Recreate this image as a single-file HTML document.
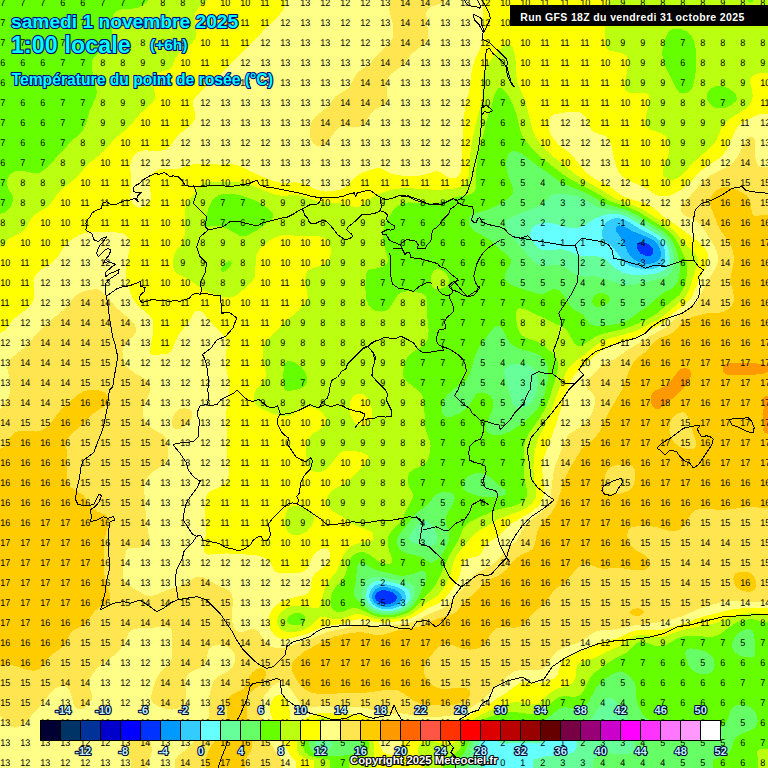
<!DOCTYPE html>
<html><head><meta charset="utf-8"><style>
html,body{margin:0;padding:0;background:#fff;overflow:hidden}
svg{display:block}
.h{font-family:"Liberation Sans",Arial,sans-serif;font-weight:bold;fill:#00ffff;stroke:#000080;stroke-width:2.2px;paint-order:stroke;stroke-linejoin:round}
</style></head><body>
<svg width="768" height="768" viewBox="0 0 768 768">
<rect width="768" height="768" fill="#0033ff"/>
<path fill="#0099ff" fill-rule="evenodd" shape-rendering="crispEdges" d="M770 770.0L-2 770.0L-2 -2.0L770 -2.0L770 770.0ZM650.8 255.5L652.5 254.1L653.4 251.5L652.7 248.5L650.3 245.5L647.3 243.5L643.5 242.2L639.5 242.2L637.5 243.5L636.7 245.5L637.1 248.5L638.5 251.3L640.5 253.5L645.5 255.9L648.5 256.1L650.8 255.5ZM391.5 603.5L395.3 601.5L397.1 598.5L396.3 595.5L393.5 592.9L388.5 590.8L383.5 590.1L379.5 590.8L376.2 593.5L375.3 595.5L375.4 598.5L376.4 600.5L378.5 602.4L381.5 603.8L384.5 604.3L391.5 603.5Z"/>
<path fill="#33ccff" fill-rule="evenodd" shape-rendering="crispEdges" d="M770 770.0L-2 770.0L-2 -2.0L770 -2.0L770 770.0ZM651.2 263.5L654.5 262.7L657.5 261.1L659.5 258.8L660.5 256.5L660.8 253.5L660.3 249.5L658.5 245.6L656.5 243.0L653.6 240.5L649.5 238.0L632.5 231.1L623.5 226.2L619.5 225.4L616.9 226.5L615.8 228.5L616.3 231.5L622.5 239.9L627.5 251.5L630.7 256.5L634.5 259.8L639.5 262.2L645.5 263.6L651.2 263.5ZM390.9 606.5L396.9 604.5L399.7 602.5L401.2 600.5L401.8 598.5L401.8 596.5L401 594.5L399.5 592.5L394.5 589.4L386.5 587.2L380.5 587.2L377.5 588.1L375.4 589.5L373.1 592.5L372.2 595.5L372.6 599.5L374.5 602.5L377.5 604.8L381.5 606.3L386.5 606.9L390.9 606.5Z"/>
<path fill="#66ffff" fill-rule="evenodd" shape-rendering="crispEdges" d="M770 770.0L-2 770.0L-2 -2.0L770 -2.0L770 770.0ZM653.8 268.5L658.5 267.0L661.5 265.1L663.7 262.5L665.2 258.5L665.4 253.5L664.4 248.5L662.5 244.2L659.5 240.4L653.5 235.9L639.5 228.7L628 221.5L623.5 219.4L618.5 218.2L613.5 218.5L609.5 219.9L606 222.5L603.5 226.5L602.2 230.5L601.9 234.5L602.7 237.5L605 240.5L614 248.5L623.6 261.5L629.1 265.5L636.5 268.1L645.5 269.1L653.8 268.5ZM392.9 608.5L396.5 607.5L400.5 605.6L404.6 601.5L405.6 599.5L406 596.5L405.2 593.5L403.5 591.0L400.5 588.7L396.5 586.8L385.5 584.1L378.5 584.3L375.5 585.5L372.7 587.5L370.1 591.5L369.2 595.5L369.8 599.5L372.5 603.9L376.5 606.9L381 608.5L386.5 609.1L392.9 608.5Z"/>
<path fill="#66ff99" fill-rule="evenodd" shape-rendering="crispEdges" d="M770 770.0L532.7 770.0L532.7 760.5L534.1 759.5L545.5 756.3L567.5 754.1L572.5 752.5L575.1 750.5L576.4 748.5L577.1 745.5L576.6 742.5L574.9 739.5L572.8 737.5L569.5 735.6L566 734.5L562.5 734.2L556.5 735.3L542.5 742.1L536.5 743.5L520.5 742.5L505.5 743.7L500.5 742.6L490.5 738.4L486.5 738.3L483.5 739.1L481.4 740.5L479 743.5L477.5 747.1L476.9 750.5L477.1 753.5L478.2 756.5L482.5 760.5L482.5 770.0L-2 770.0L-2 -2.0L770 -2.0L770 770.0ZM647.6 274.5L655.5 273.4L660.5 272.0L664.5 269.8L666.7 267.5L668.8 263.5L669.6 258.5L669.2 252.5L667.5 246.5L664.1 240.5L658.8 235.5L641.5 225.6L630.5 218.6L625.5 216.2L620.5 214.6L615.5 214.0L609.5 214.1L604.5 214.9L595.3 218.5L582.5 226.5L575.5 228.3L568.5 227.6L551.5 223.0L542.5 222.8L538.5 223.8L535 225.5L532.5 227.6L530.7 230.5L530.2 235.5L532 240.5L536.5 246.2L541.5 249.6L547.5 250.5L558.5 249.3L562.5 249.4L568.5 250.8L577.5 255.3L581.3 256.5L594.5 256.2L599.5 256.7L605.5 259.4L615.5 268.5L622.5 272.6L627.5 274.1L632.5 274.8L647.6 274.5ZM393.9 610.5L398.5 609.2L402.5 607.3L406 604.5L408.3 601.5L409.6 598.5L409.9 594.5L409.2 591.5L407.5 588.9L404.3 586.5L399.6 584.5L391.5 582.1L384.5 580.8L380.5 580.6L376.5 581.1L373.5 582.2L370.5 584.2L367.5 588.5L366 594.5L366.7 599.5L369.7 604.5L374.5 608.3L379.5 610.3L386.5 611.2L393.9 610.5Z"/>
<path fill="#66ff66" fill-rule="evenodd" shape-rendering="crispEdges" d="M770 770.0L592.8 770.0L592.8 760.5L597.5 756.5L601.5 754.1L607.5 753.0L620.5 754.6L626.5 754.3L632.5 752.3L634.4 750.5L635.2 748.5L635.4 744.5L633.9 737.5L629.3 724.5L625.3 715.5L620.5 707.2L616.5 701.8L612.5 698.5L609.5 697.7L606.5 698.4L603.5 700.5L600.5 704.4L595.5 713.1L592.5 717.2L588.5 720.4L584.5 722.0L579.5 722.5L567.5 721.4L562.5 721.6L557.5 723.1L543.5 729.4L536.5 731.1L504.5 730.9L491.5 729.9L486.5 730.5L482.5 731.7L477.5 735.5L473.3 742.5L471.4 748.5L468.8 760.5L468.8 770.0L-2 770.0L-2 -2.0L770 -2.0L770 770.0ZM634.7 284.5L662.5 278.0L668.3 275.5L671.3 272.5L672.8 269.5L673.9 264.5L673.9 258.5L672.8 251.5L670.9 245.5L668.2 240.5L664.8 236.5L658.5 231.6L629.6 214.5L620.5 211.3L599.5 207.7L595.5 205.9L584.5 199.0L576.5 196.0L566.5 194.3L555.5 194.1L550.5 195.5L544.4 202.5L540.2 205.5L513 216.5L508 219.5L505.7 222.5L505.4 224.5L506.2 227.5L512.3 237.5L532.5 260.5L537.5 264.4L543.5 265.8L555.5 265.0L559.5 265.3L564.5 267.2L575.5 274.0L580.5 276.0L584.5 276.6L594.5 276.4L599.5 276.9L616.5 283.2L622.5 284.8L628.5 285.2L634.7 284.5ZM519.8 408.5L523.5 407.7L527.5 405.6L531.5 402.1L534 398.5L536.1 393.5L537.2 388.5L537.7 383.5L537.4 377.5L536.6 373.5L535.3 370.5L533.5 368.2L530.5 366.0L523.5 363.9L513.5 363.9L508.5 365.3L505.8 367.5L504.4 370.5L504.4 374.5L512.7 403.5L515.5 407.2L517.5 408.2L519.8 408.5ZM432.5 545.5L435.5 543.6L437.2 540.5L437.2 536.5L435.4 531.5L432.5 526.2L429.4 522.5L425.5 520.9L421.5 521.5L417.5 524.5L412.2 531.5L409.7 536.5L409.3 538.5L409.8 540.5L411.9 542.5L416.5 544.1L427.5 545.9L432.5 545.5ZM394.5 612.5L399.5 611.2L404.5 609.0L408.5 605.9L411.4 602.5L413.7 597.5L414.6 592.5L414.3 588.5L412.7 585.5L410.5 583.8L407.1 582.5L383.5 576.9L374.5 576.5L371.5 577.1L368.5 578.6L366.5 580.5L364.5 583.5L362.2 590.5L362.5 597.5L365.3 603.5L370.4 608.5L377.5 611.9L385.5 613.2L394.5 612.5ZM328.8 749.5L331.2 747.5L331.9 745.5L331.5 742.5L329.6 739.5L326.5 736.8L323.5 735.7L320.5 735.9L318.5 737.0L316.4 739.5L315.4 742.5L315.6 745.5L316.6 747.5L318.5 749.1L321.5 750.3L325.5 750.4L328.8 749.5Z"/>
<path fill="#66ff00" fill-rule="evenodd" shape-rendering="crispEdges" d="M770 770.0L712.6 770.0L712.6 760.5L714.5 759.3L725.5 755.9L728.5 753.9L730.6 750.5L734.1 740.5L736.5 737.1L740.5 734.3L752.1 729.5L754.5 727.8L756.3 725.5L757.6 721.5L757.2 716.5L755.1 711.5L751.5 707.8L747.5 705.8L742.5 704.7L738.5 704.8L734.5 706.1L732.5 707.7L730.6 710.5L727.4 720.5L725.5 724.0L722.6 726.5L718.5 728.0L709.5 728.7L673.5 728.3L663.5 727.1L657.5 724.8L651.5 721.6L646.5 717.9L642.5 713.5L639 707.5L636.8 701.5L636.1 696.5L635.7 686.5L634.6 682.5L631.7 678.5L627.5 674.5L623.5 672.0L620.5 671.4L617.5 671.9L612.5 674.2L605.5 678.4L600.5 682.3L596.3 687.5L588.3 702.5L584.7 706.5L581.5 708.5L576.5 709.3L565.5 707.3L561.5 707.6L558 709.5L546.8 718.5L542.5 720.7L537.5 722.0L530.5 722.4L512.5 721.0L502.5 721.2L488.5 723.5L483.5 725.1L479.5 727.1L475.2 730.5L471.5 735.5L465.5 750.5L463.4 754.5L460.5 757.4L455.9 760.5L455.9 770.0L-2 770.0L-2 -2.0L770 -2.0L770 770.0ZM606 325.5L619 323.5L624.5 321.7L629 319.5L640.5 311.0L650.3 304.5L660.6 294.5L671.5 288.9L675.5 285.2L677.7 281.5L679.3 276.5L679.9 266.5L678.9 259.5L677.2 252.5L672.8 241.5L669.3 236.5L663.8 231.5L635.5 214.0L625.5 209.6L605.5 203.9L585.5 192.7L564.5 184.3L559.5 181.4L547.5 172.3L535.9 164.5L521.5 153.4L515.5 151.2L512.5 151.2L510.5 152.0L508.5 154.0L507.3 156.5L506.4 160.5L506.1 165.5L507.3 173.5L512.8 187.5L512.9 191.5L511.8 194.5L507.1 199.5L497 205.5L487.5 209.6L474.9 213.5L471.1 215.5L469.3 217.5L468.5 220.5L468.9 223.5L470.2 226.5L472.5 229.4L475.1 231.5L486.2 237.5L490.6 240.5L499.5 248.9L507.5 255.5L510.3 258.5L511.2 260.5L511.1 263.5L505.9 271.5L504.6 275.5L505.3 279.5L508.8 283.5L516.5 287.2L539.5 294.2L543.5 293.7L552.5 289.4L555.5 289.3L558.5 290.1L562.5 293.5L570.5 306.2L574.5 309.5L582.8 314.5L589.2 323.5L591.5 324.8L594.5 325.5L606 325.5ZM600.5 306.6L597.5 306.8L594.5 306.1L592.8 304.5L592.1 301.5L592.8 298.5L594.8 295.5L597.9 293.5L601.5 292.9L604.5 293.6L607.5 295.2L609.5 297.5L610 299.5L609.2 301.5L607.2 303.5L603.7 305.5L600.5 306.6ZM502.5 434.5L510.5 431.3L520.5 424.8L530.5 416.5L537.7 408.5L541.5 402.1L544.6 393.5L547.8 379.5L548.5 370.5L546.9 363.5L545.2 360.5L542.5 357.5L539.5 355.1L535.5 353.1L519.5 348.8L513.5 345.7L510.5 343.0L507.8 339.5L501.5 327.6L499.5 325.9L497.5 325.5L495.5 326.2L492.5 328.9L478.5 348.3L475.3 355.5L469.9 373.5L467.5 378.5L464.5 381.8L453.5 389.0L447.5 394.5L443.2 401.5L442.1 405.5L441.8 409.5L442.6 413.5L444.5 416.3L447.5 417.5L451.5 416.9L460.5 412.6L466.4 408.5L469.9 404.5L475.2 395.5L477.4 393.5L481.5 392.4L486.3 393.5L489.5 395.4L491.5 397.5L493 400.5L493.5 403.5L492.5 409.5L486.5 424.5L486 427.5L486.5 430.5L488.5 432.8L492.4 434.5L497.5 435.1L502.5 434.5ZM497.8 496.5L502.8 495.5L505.1 494.5L506.1 493.5L506.4 491.5L504.8 489.5L499.5 485.5L492.1 478.5L485.7 474.5L479.5 473.0L473.5 473.7L467.9 476.5L465.8 478.5L463.9 481.5L463 485.5L463.4 488.5L465 490.5L468.3 492.5L475.5 495.1L482.5 496.6L489.5 497.0L497.8 496.5ZM432.3 562.5L436.5 560.5L440.5 556.6L445.6 548.5L449 540.5L449.5 537.5L449.3 533.5L445.9 522.5L445.5 518.5L447.2 513.5L453.2 503.5L454.3 500.5L454.7 497.5L453.7 494.5L449.9 492.5L445.5 492.0L441.5 492.3L437.9 493.5L434.9 495.5L427.5 504.7L418.5 511.5L414.5 515.2L399.3 534.5L396.8 539.5L396.7 542.5L397.9 546.5L400 549.5L402.5 551.4L407.5 553.5L419.5 556.2L423.7 558.5L428.5 562.1L430.5 562.7L432.3 562.5ZM395.1 614.5L401.5 612.9L406.5 610.7L410.9 607.5L414.5 603.5L417.6 598.5L425.4 582.5L426.6 576.5L425.5 572.4L423.5 571.2L421.5 571.2L408.5 575.1L404.5 575.6L399.5 575.5L378 570.5L372.5 568.4L363.5 562.8L361.5 562.4L359.5 563.0L358.1 564.5L356.9 567.5L356.1 580.5L353.7 591.5L353.9 594.5L355.4 597.5L364.6 607.5L372.5 612.5L377.5 614.2L382.5 615.1L388.5 615.2L395.1 614.5ZM751.5 657.5L753.5 656.7L754.5 655.5L755.3 652.5L754.3 635.5L753.4 632.5L751.5 630.2L748.5 629.1L745.5 629.3L739.5 632.1L735 636.5L732.5 641.5L731.9 644.5L732.1 647.5L734 651.5L738.5 655.1L745.5 657.4L751.5 657.5ZM709.5 673.5L711.5 672.4L713.2 670.5L714.7 665.5L714.2 660.5L712.7 657.5L711 655.5L705.5 651.7L698.5 649.2L690.5 648.4L688.5 648.8L686.5 650.0L685.3 652.5L685.7 656.5L688.4 664.5L691.6 669.5L695.5 672.4L699.5 673.8L704.5 674.3L709.5 673.5ZM343.7 755.5L356.4 753.5L359.5 752.1L361.5 750.4L363.2 746.5L363.3 742.5L362.1 738.5L359.5 735.3L356.5 734.0L353.5 733.8L344.5 736.1L340.5 736.2L337.5 735.1L328.5 730.0L322.5 728.7L319.5 729.1L316.5 730.6L313.5 733.2L311.5 736.0L309.5 740.5L309 745.5L310.2 749.5L313.3 752.5L318 754.5L324.5 755.6L334.5 756.1L343.7 755.5Z"/>
<path fill="#bbff11" fill-rule="evenodd" shape-rendering="crispEdges" d="M442.5 770.0L349.1 770.0L349.1 760.5L351.2 759.5L362.8 756.5L365.5 754.9L367.5 752.4L368.7 748.5L368.7 742.5L367.5 737.0L365.5 732.6L361.6 728.5L357.5 726.9L353.5 726.7L344.5 728.0L340.5 728.0L328.5 724.0L322.5 723.2L318.5 723.9L315.5 725.3L311.5 728.3L308.6 731.5L306 735.5L304.3 739.5L303.4 743.5L303.4 747.5L304.3 750.5L305.5 752.5L309.4 755.5L314.5 757.2L327.7 759.5L330.3 760.5L330.3 770.0L-2 770.0L-2 214.2L4.5 212.6L8.4 209.5L11.3 205.5L12.9 201.5L12.7 196.5L8.4 188.5L7 184.5L6.8 181.5L7.6 178.5L9.4 175.5L11.5 173.4L16.5 170.9L22.5 170.7L35.5 173.4L39.5 172.7L42.5 171.2L48.5 166.0L71.5 141.2L82.3 131.5L85.5 125.5L89.7 110.5L95.4 98.5L96.7 93.5L96.2 85.5L91.9 69.5L91.6 65.5L92 61.5L93.7 57.5L96.5 54.6L99.5 52.8L108 49.5L110.7 46.5L111.9 40.5L112 20.5L113.5 14.3L115.5 11.7L118.5 10.0L122.5 9.2L131.5 8.8L136.5 8.0L141.5 6.0L151.2 -2.0L746.9 -2.0L748.5 1.9L750.5 2.5L752.5 2.1L754.8 -2.0L770 -2.0L770 622.0L760.5 622.0L757.5 620.4L753.5 619.4L749.5 619.3L744.5 620.0L739.5 621.5L733.5 624.4L720.5 633.8L715.5 636.3L709.5 637.2L693.5 635.6L683.5 636.3L677.5 638.2L666.5 644.6L661.5 646.3L655.5 645.9L643.5 641.5L638.5 642.1L634.9 644.5L627.5 652.4L613 659.5L593.5 673.5L589.6 678.5L583.3 691.5L580.8 694.5L578.5 696.0L574.5 696.7L563.5 696.2L558.5 697.4L554 700.5L544.5 710.1L541.5 712.1L537.5 713.6L530.5 714.1L514.5 712.1L505.5 712.4L499.5 713.7L491.5 716.3L482.5 719.8L477.3 722.5L472.5 726.2L469 730.5L466.2 735.5L461.5 746.4L458.5 750.7L454.5 753.7L446.3 757.5L443.2 759.5L442.6 760.5L442.5 770.0ZM684.3 93.5L687.5 92.4L690.5 90.0L692.2 87.5L693.7 83.5L695.4 74.5L696.4 64.5L696.4 56.5L695.7 48.5L694.5 43.0L692.8 38.5L691 35.5L688.5 32.8L685.5 30.8L681.5 29.3L677.5 28.7L673.5 28.9L670.5 30.1L668.9 31.5L665.5 37.7L662.6 48.5L662.3 53.5L662.7 58.5L665.4 66.5L676.5 89.1L679.5 92.5L681.5 93.4L684.3 93.5ZM725.7 107.5L731.5 105.0L735.7 101.5L736.7 99.5L736.9 97.5L735.1 93.5L729.5 88.9L722.5 85.9L719.5 85.5L716.5 85.9L711.2 88.5L708.3 91.5L706.6 95.5L707 99.5L708.7 102.5L712.5 106.1L716.5 108.0L720.5 108.4L725.7 107.5ZM396.2 616.5L405.5 613.9L412.5 609.9L433.5 588.0L438.4 579.5L449.4 555.5L458.1 540.5L463.5 528.2L466.5 524.2L470.5 521.5L492.5 511.3L499.5 509.1L512.5 506.3L518.5 504.2L524.2 500.5L526.7 496.5L527.3 493.5L527.2 490.5L524.3 479.5L523.8 474.5L524.5 460.5L524.1 446.5L524.8 441.5L528 434.5L541.5 415.4L546.5 405.9L549.9 396.5L556.1 376.5L557.9 368.5L558.1 363.5L557.2 359.5L555.4 356.5L551.7 352.5L544.5 346.2L537.5 341.7L525.2 337.5L522.5 335.8L520.5 333.7L517.9 328.5L516.5 321.5L516 313.5L516.5 311.0L517.4 309.5L518.5 308.7L520.5 308.3L525.5 309.4L561.7 326.5L564.7 328.5L567.6 331.5L574.5 343.7L577.5 345.6L580.5 345.6L584.5 343.9L593.5 337.9L598.5 335.4L604.5 333.4L621.7 329.5L629.5 327.2L646.6 319.5L654.1 315.5L679.5 294.7L683.5 288.3L686.4 278.5L687.5 268.5L687.3 264.5L686.2 260.5L677.2 241.5L671.3 233.5L664.5 228.0L637.9 211.5L629.5 207.8L610.5 201.3L593.5 191.2L570.7 179.5L563.2 174.5L542.3 158.5L530.4 146.5L523.3 137.5L520.6 131.5L516.5 114.4L512.5 103.5L509.5 97.7L505.5 91.8L502.5 88.6L500.5 87.5L498.5 87.8L497.5 88.6L495 93.5L486.9 119.5L482.9 136.5L478.5 151.7L476.6 163.5L476.2 186.5L474.5 191.5L472.5 193.2L469.5 194.4L454.6 197.5L438.5 202.8L430.5 203.4L408.5 202.4L402.2 203.5L397.5 206.0L393.1 210.5L387.5 219.2L385.1 223.5L383.6 228.5L383.1 233.5L383.3 239.5L384.6 246.5L387.7 257.5L387.9 260.5L387.3 262.5L385.5 264.9L382.5 266.9L378.5 268.1L370.5 269.4L368.5 270.3L366.6 272.5L366 274.5L365.4 288.5L366.5 299.5L367.9 303.5L369.7 306.5L372.5 309.2L375.5 310.8L381.5 311.6L384.5 311.0L387.5 309.5L390.5 306.5L397.5 295.2L400.5 292.7L403.5 291.6L410.5 291.3L420.5 292.9L424.3 294.5L426.3 297.5L427 301.5L427.4 317.5L428.7 330.5L427.8 338.5L425.9 342.5L423.3 345.5L411.5 353.0L408 356.5L405.7 360.5L404.2 364.5L402.9 372.5L403.5 376.5L405.8 380.5L419.3 391.5L421.7 394.5L423.1 397.5L424.3 404.5L424.8 425.5L426.2 431.5L430 441.5L430.6 445.5L430.4 449.5L428.7 457.5L426.3 462.5L422.5 465.5L412.5 469.6L409.5 472.5L408.2 475.5L407.6 479.5L407.9 483.5L408.9 486.5L412.7 493.5L413 497.5L408 506.5L402.3 519.5L399.5 523.1L391.1 531.5L388.4 536.5L387.5 540.5L387.7 544.5L389.1 550.5L392.5 559.5L392.3 562.5L391.2 563.5L388.5 564.2L385.5 564.1L381.5 563.1L377.5 560.8L369.5 554.6L364.5 552.5L359.5 552.2L354.5 554.2L351.5 557.0L349.4 560.5L345.7 573.5L344.1 577.5L341.9 580.5L335.5 587.2L332.7 591.5L331 596.5L330.4 602.5L330.9 605.5L332.5 608.7L334.5 610.7L337.5 612.0L342.5 611.8L351.5 608.3L355.5 607.8L359.5 608.9L370.7 614.5L377.5 616.6L386.5 617.4L396.2 616.5ZM246.7 235.5L251.5 233.5L256.5 230.5L270.1 220.5L272.6 217.5L273.1 215.5L272.6 213.5L271.2 211.5L265.2 206.5L257.1 201.5L249.5 198.2L240.5 195.4L232.5 193.9L225.5 193.7L219.5 194.9L214.9 197.5L211.6 201.5L208.5 208.5L204.6 221.5L204.5 226.5L205.5 227.2L213.5 225.5L219.5 225.8L226.5 228.3L239.5 235.6L242.5 236.2L246.7 235.5ZM224.1 271.5L227.5 269.3L230.5 266.1L231.8 263.5L231.2 261.5L229.5 261.2L227.5 261.7L224.5 263.5L222.5 265.6L221 268.5L220.9 270.5L221.5 271.5L224.1 271.5ZM441.5 288.5L437.5 289.0L434.5 288.5L432.5 287.2L431.2 284.5L430.8 279.5L431.6 274.5L433.5 270.9L436.5 269.2L439.5 269.2L443.5 271.2L446.7 274.5L448.7 278.5L448.9 281.5L447.9 284.5L445.5 286.8L441.5 288.5ZM292.3 390.5L299.5 388.9L304.2 386.5L307 382.5L307.5 378.5L305.5 372.6L301.5 367.2L294.5 362.2L289.5 360.9L287.5 361.3L285.9 362.5L284 366.5L283.4 372.5L283.6 386.5L284.1 388.5L285.5 390.2L288.5 390.8L292.3 390.5ZM299.8 624.5L303.4 622.5L305.5 619.5L305.2 616.5L302.5 613.9L298.5 612.8L294.5 613.2L290.5 615.0L288 617.5L287.2 619.5L287.3 621.5L289.5 624.0L294.5 625.3L299.8 624.5ZM770 770.0L758.4 770.0L758.4 760.5L757 753.5L757.5 751.1L759.5 749.1L770 748.9L770 770.0Z"/>
<path fill="#ffff00" fill-rule="evenodd" shape-rendering="crispEdges" d="M423.5 770.0L370.6 770.0L370.6 760.5L373.4 758.5L374 756.5L373.9 746.5L373 739.5L371.6 733.5L369.5 728.7L367.2 725.5L363.5 722.6L358.5 720.8L353.5 720.5L340.5 721.2L328.5 718.5L323.5 718.0L319.5 718.4L315.5 719.7L308.2 724.5L304.4 728.5L300.7 733.5L298 738.5L296.8 742.5L296.7 748.5L298.6 753.5L300.5 755.8L303.5 757.7L313.6 760.5L313.6 770.0L-2 770.0L-2 249.7L3.5 244.3L6.5 240.7L10.5 237.6L20.5 232.8L23.7 230.5L26.2 227.5L30.6 219.5L34 215.5L38.5 211.8L46.5 207.6L49.5 205.3L57.1 194.5L61.4 189.5L75.5 178.2L89 163.5L103.6 151.5L115 138.5L128.5 127.5L140.3 113.5L152.6 102.5L154.5 99.5L155.2 95.5L152.6 82.5L152.5 79.5L153.3 76.5L154.8 74.5L157.5 72.8L167.5 70.1L170.5 68.4L172.5 65.7L175.9 57.5L178.5 53.6L181.9 50.5L191.5 43.6L194.4 40.5L195.9 37.5L196.6 33.5L194.5 18.5L194.6 15.5L195.4 12.5L197.1 9.5L200.1 6.5L209.3 -2.0L609.4 -2.0L606.4 11.5L605.4 19.5L605.4 38.5L606.5 47.5L607.8 49.5L609.5 50.6L619.5 52.5L623.5 53.9L626.5 56.1L628 58.5L628.6 61.5L628.5 64.5L624.6 83.5L624.7 87.5L625.7 90.5L627.5 92.1L629.5 92.6L644.5 92.9L647.5 94.1L648.7 95.5L649.7 98.5L649.6 101.5L645.8 117.5L645.6 121.5L646.1 124.5L647.5 127.4L649.5 129.2L662.5 133.8L665.5 136.1L667.7 139.5L669 145.5L668.6 153.5L667 159.5L663.4 168.5L662.8 172.5L663.6 175.5L665.2 177.5L667.5 179.0L670.5 179.7L673.5 179.6L676.5 178.7L681.5 175.3L692.5 163.1L708.3 149.5L713.3 144.5L716.6 139.5L721.7 127.5L725.4 122.5L730.2 118.5L744.7 109.5L749.1 105.5L751.5 101.5L752.7 96.5L752.3 90.5L749.9 81.5L750.1 79.5L751.2 77.5L754.5 74.9L759.5 72.9L770 72.7L770 613.9L750.5 613.2L739.5 614.6L732.5 616.6L716.5 622.9L681.5 630.3L661.5 637.3L657.5 637.3L647.5 635.2L642.5 634.7L638.5 635.0L633.8 636.5L630.2 638.5L622.5 644.3L618.5 646.7L607.5 651.4L596.5 657.3L583.3 661.5L579.5 663.4L577.5 665.5L576.5 667.5L575.3 678.5L574 681.5L572.5 683.3L568.7 685.5L558.5 688.4L552.5 691.2L548.2 694.5L541.5 701.3L538.5 703.3L535.5 704.3L531.5 704.5L519.5 702.3L513.5 702.3L504.5 704.2L495.5 707.8L477.5 716.7L470 721.5L464.4 727.5L456.5 740.5L454.5 742.5L451.5 744.2L448.5 744.8L445.5 744.6L435.5 741.7L430.5 741.0L425.5 741.4L421.5 743.2L418.6 746.5L417.8 750.5L418.4 753.5L419.5 755.5L424.1 760.5L424.1 770.0L423.5 770.0ZM297 631.5L303.5 629.7L308.5 627.3L313.5 623.5L319.5 617.1L321.5 616.4L332.5 618.8L338.5 619.2L343.5 618.2L353.5 614.5L357.5 613.9L361.5 614.5L374.5 618.6L381.5 619.7L391.5 619.4L402.5 617.6L408.5 615.6L413.5 613.0L425.5 603.4L437.8 595.5L442.5 590.0L448.4 579.5L450.5 573.9L453.6 561.5L456.5 555.5L459.5 551.2L473.5 534.8L477.7 531.5L488.4 525.5L499.5 518.4L518.5 511.6L525.2 508.5L530.9 504.5L534.3 500.5L536 496.5L536.4 492.5L533.8 477.5L533.4 468.5L534.5 453.8L536 445.5L538.5 438.5L550.2 413.5L557.5 392.7L563.1 378.5L566.5 371.4L569.7 366.5L574.5 361.8L584.5 354.8L596.5 344.9L601.5 341.7L609.5 338.5L634.5 331.5L657.6 320.5L683.1 299.5L686.9 294.5L689.6 288.5L697.3 264.5L697.9 261.5L697.7 258.5L696.5 255.7L694.9 253.5L686.5 245.3L675.2 231.5L669 226.5L643.5 209.9L635.5 206.2L615.5 198.8L601.5 189.9L583 179.5L574.5 173.5L551.8 155.5L545.4 149.5L539.5 142.5L535.5 136.5L532.8 130.5L525.9 103.5L517.6 82.5L515.9 73.5L515.5 59.5L514.8 53.5L512.5 46.8L509.5 43.9L507.5 43.7L504.5 44.9L497.5 51.3L488.5 63.4L483.5 73.5L481.9 81.5L482.2 95.5L481.7 101.5L475.8 123.5L471.8 143.5L470.2 154.5L468.6 176.5L466.2 182.5L464.4 184.5L461.5 186.4L454.5 188.5L443.5 189.6L431.5 189.6L406.5 188.0L395.5 188.9L386.5 191.2L377.5 194.5L372.5 197.3L362.5 205.1L359.5 206.5L355.5 207.1L351.5 206.5L340.5 203.3L325.5 202.7L319.5 201.9L299.5 195.5L294.5 195.2L282.5 195.8L277.5 195.2L270.5 193.1L252.5 185.5L241.5 182.6L233.5 181.9L208.5 182.4L203.1 183.5L198.9 186.5L187.7 202.5L185.7 206.5L184.7 212.5L185.1 229.5L184.4 237.5L182.3 243.5L176.3 250.5L174.2 254.5L172.8 262.5L173.7 269.5L174.6 271.5L176.5 273.5L188.5 279.0L201.5 288.7L210.5 293.0L220.5 296.4L228.5 297.6L232.5 297.2L235.5 296.1L239.5 293.3L252.1 281.5L254.2 278.5L255.2 275.5L255.7 259.5L256.5 255.4L258 251.5L260.5 247.8L263.9 244.5L269.3 240.5L274.5 237.6L280.5 235.6L285.5 235.0L300.5 235.9L318.5 236.2L323.5 237.5L326.5 239.2L328.6 241.5L330.2 245.5L330.8 250.5L330.5 255.5L329.3 259.5L327.5 262.4L323.5 264.9L310.5 268.9L307.5 271.2L306.1 273.5L305.2 277.5L305.2 281.5L307.8 296.5L307.3 299.5L305.8 302.5L298.6 310.5L284.2 322.5L275.5 332.2L266.8 340.5L264.5 343.9L263.3 347.5L262.9 352.5L263.4 358.5L265.6 370.5L265.5 376.5L263.5 381.2L257.1 388.5L255.2 391.5L253.8 395.5L253.6 399.5L254.6 402.5L255.9 404.5L260.5 408.2L269.5 412.4L280.5 415.9L285.5 416.4L289.5 415.7L293.5 413.7L300.5 408.1L303.5 406.8L306.5 406.3L310.5 406.7L315.5 408.3L319.6 410.5L323 413.5L325 416.5L325.9 419.5L325.7 422.5L324.9 424.5L321.5 428.5L313.5 433.5L310.5 436.1L308.2 439.5L306.7 444.5L306.1 453.5L307.3 462.5L309.5 467.8L311.5 470.0L313.5 471.3L316.5 472.2L319.5 472.2L322.5 471.4L325.5 469.7L330 465.5L338.5 454.5L340.5 452.8L343.5 451.4L348.5 450.6L356.5 451.3L363.5 452.9L367.7 455.5L368.6 457.5L368.6 459.5L366.3 463.5L346.5 482.5L335.1 488.5L331.1 491.5L327.8 496.5L327 499.5L326.9 502.5L328.1 506.5L331.7 510.5L342.5 516.9L354.5 525.0L370.5 531.2L372.7 533.5L373.5 537.5L372.5 540.0L370.5 541.4L360.5 542.7L355.5 544.1L350.5 546.7L346.5 550.5L343.4 555.5L337.1 570.5L328.6 581.5L326.2 585.5L323.9 591.5L320.6 604.5L318.5 607.9L315.5 608.4L302.5 605.5L295.5 605.6L290.5 606.7L286.5 608.3L283 610.5L280 613.5L277.7 617.5L277.1 621.5L278 625.5L280 628.5L282.6 630.5L286.5 631.8L291.5 632.1L297 631.5ZM365.5 425.6L360.5 425.7L356.5 423.9L353 420.5L350.6 415.5L349.5 408.5L350.1 401.5L352.5 396.6L356.5 394.0L361.5 393.8L365.5 395.7L368.7 399.5L371.1 405.5L372.3 413.5L371.6 419.5L369.4 423.5L365.5 425.6ZM301.3 534.5L306.6 531.5L311.3 526.5L313.8 520.5L313.5 515.5L310.8 511.5L305.5 508.2L297.5 506.1L291.5 506.5L288.2 508.5L285.8 513.5L284.8 521.5L286 528.5L288.5 532.3L292 534.5L296.5 535.3L301.3 534.5Z"/>
<path fill="#ffff88" fill-rule="evenodd" shape-rendering="crispEdges" d="M139.5 207.5L136.5 206.8L133.5 204.4L131.3 200.5L130.4 196.5L131 179.5L130.2 165.5L131.1 160.5L133.3 156.5L137.5 152.5L141.5 150.8L145.5 150.4L160.5 151.0L165.5 149.6L169.9 146.5L177.8 135.5L190.1 125.5L194.3 120.5L195.3 117.5L195.3 114.5L192.8 103.5L193.3 100.5L195.2 97.5L209.5 83.1L226.5 68.5L237.5 56.9L250.4 44.5L265.3 28.5L279.5 14.9L284 8.5L286.5 -2.0L483.6 -2.0L482.6 9.5L484.3 28.5L484.1 36.5L482 44.5L475.5 58.5L473.1 65.5L471.4 73.5L468.9 92.5L464.9 106.5L462.6 140.5L461.7 167.5L460.3 173.5L457.5 176.9L453.5 178.2L449.5 177.8L446.4 176.5L439.5 171.7L436.5 171.2L424.5 174.6L418.5 175.7L409.5 176.0L399.5 175.4L390.5 173.6L381.5 168.6L377.5 167.9L366.5 171.1L359.5 174.1L355.5 177.1L347.7 185.5L343 188.5L334.5 191.0L325.5 191.6L317.5 190.0L305.5 184.5L300.5 182.9L295.5 182.4L282.5 183.0L275.5 181.8L257.1 174.5L240.5 166.3L235.5 164.6L230.5 164.2L219.5 164.6L204.5 163.5L196.5 163.6L189.5 164.9L178.5 168.8L162.5 168.6L158.5 169.5L154.5 171.5L150.7 175.5L148.9 180.5L149 184.5L151.3 195.5L150.5 200.2L148.5 203.1L145.6 205.5L142.5 207.0L139.5 207.5ZM295.5 770.0L-2 770.0L-2 334.3L5 330.5L13.5 319.0L27.2 308.5L32.4 302.5L33.7 299.5L34.4 295.5L33.5 280.5L34.2 277.5L35.8 274.5L39.9 270.5L50.6 263.5L55.4 259.5L58.5 255.6L64.2 246.5L67.7 242.5L72.5 238.8L79.5 234.9L85.5 232.8L91.5 232.1L114.5 232.1L122.5 233.3L125.5 234.8L127.5 236.5L128.9 238.5L129.8 241.5L129.8 247.5L126.5 264.5L125.8 272.5L126.5 278.5L130.7 293.5L132.8 298.5L135.3 302.5L139.1 306.5L149.6 315.5L151.9 318.5L153.4 322.5L153.5 330.5L149.7 351.5L150.5 354.0L153.5 354.9L163.5 354.3L167.5 353.6L170.5 351.9L172.5 349.1L176.2 339.5L178.9 334.5L188.5 322.5L194.1 312.5L195.5 311.2L197.5 310.5L200.5 311.0L203.5 313.1L212.8 324.5L222.7 334.5L225.1 337.5L226.4 340.5L227 343.5L225.6 362.5L228.3 380.5L228.9 388.5L228.6 396.5L226.5 409.7L225.9 418.5L227.4 439.5L227.2 456.5L228.6 469.5L228.6 475.5L227.4 480.5L224.5 484.5L220.5 487.1L210.5 490.9L207.8 493.5L206.4 496.5L205.1 505.5L205.8 529.5L205.4 538.5L204 548.5L204.5 552.5L206.5 554.2L208.5 554.6L226.5 553.4L251.5 554.8L259.5 555.9L264.5 557.6L268.5 560.5L270.6 563.5L273.5 569.5L275.5 571.6L279.5 573.0L286.5 573.5L298.5 572.8L302.5 571.7L304.9 570.5L307.6 567.5L311.5 558.5L313.5 555.1L316.5 551.8L320.5 549.3L323.5 548.4L326.5 548.7L328.9 550.5L330 553.5L329.5 558.5L326.9 563.5L323.5 567.2L315.1 573.5L312.8 576.5L311.9 579.5L310.7 588.5L308.5 592.8L304.5 595.1L290.5 598.3L282.5 601.1L276.5 605.0L272.3 609.5L269.4 615.5L268.6 622.5L270.5 629.5L274.5 635.3L277.5 637.4L281.5 638.7L285.5 638.9L291.5 638.1L307.5 633.8L323.5 626.3L341.5 624.0L357.5 619.3L362.5 619.3L375.5 622.0L382.5 622.7L392.5 622.1L403.5 620.3L409.5 618.6L414.5 616.5L427.5 608.4L438.5 603.4L442.9 600.5L448.2 594.5L457.9 580.5L459.8 575.5L461.9 565.5L464.5 560.8L468.5 558.2L476.5 556.4L479.5 555.2L481.5 553.2L484.9 546.5L487.5 543.3L499.5 535.6L506.9 527.5L511.4 523.5L531.5 511.8L538.9 505.5L542.2 500.5L543.8 494.5L543.9 488.5L542.3 470.5L542.8 463.5L544.2 456.5L557 421.5L564.5 396.5L569.7 383.5L573.5 376.5L578.7 370.5L596.4 354.5L601.5 350.6L611.6 345.5L636.5 337.0L658.5 325.8L663.5 322.5L674.5 312.4L685.5 304.3L689.4 300.5L692.7 295.5L699.4 278.5L705.8 267.5L707.9 262.5L708.4 258.5L707.5 253.5L705 248.5L701.5 244.1L676.8 225.5L663.3 216.5L652.5 206.9L646.5 203.7L631.9 199.5L623.5 196.3L618.8 193.5L610 186.5L595.5 179.4L587.3 173.5L582.6 168.5L571.5 154.5L558.5 144.7L553.1 138.5L550.3 133.5L548.6 127.5L548.5 121.6L550 117.5L552 115.5L554.5 114.3L568.5 111.8L576.5 111.6L579.5 112.2L582.5 113.7L585.8 117.5L589.5 126.9L592 130.5L595.5 132.7L605.5 136.2L609.1 139.5L611.1 144.5L614 158.5L616 165.5L618.5 171.5L621.5 175.9L626.5 179.6L643.5 186.9L655.5 194.6L658.5 195.8L662.5 196.3L667.5 195.8L672.5 194.4L681.5 189.8L687.5 184.8L700.5 171.2L720.5 157.1L724.5 152.7L727.5 148.0L735.9 129.5L738.5 126.0L741.5 123.2L747.5 119.5L760.5 113.7L770 113.7L770 608.0L746.5 607.8L731.5 609.5L701.5 616.8L684.5 623.3L663.5 629.5L658.5 630.3L643.5 629.6L636.5 630.3L629.5 632.4L616.5 638.7L603.5 641.1L599.5 642.3L587.5 648.7L570.5 654.4L564.8 657.5L562.8 659.5L561 662.5L557.6 674.5L556.1 676.5L553.5 678.5L547.5 681.1L540.5 682.9L536.5 683.0L525.5 681.7L519.5 683.1L505.2 693.5L484.9 706.5L466.5 717.1L452.5 727.0L449.5 728.1L446.5 728.4L432.5 727.5L421.5 727.6L414.5 728.6L409.7 730.5L406.5 733.1L404.5 736.0L398.9 751.5L396.9 753.5L394.5 754.5L391.5 754.8L387.5 754.2L384.5 752.9L382 750.5L379.9 745.5L377.1 731.5L375 725.5L371.6 720.5L366.5 716.7L362.5 715.2L357.5 714.3L341.5 714.6L327.5 712.8L320.5 712.7L312.5 714.8L307.5 717.4L299.5 722.6L296.5 723.7L294.5 723.7L292.1 722.5L290.5 719.5L289 705.5L286.8 699.5L284.5 696.6L282.5 695.2L280.5 694.6L278.5 694.7L274.5 697.1L271.4 701.5L270 707.5L270.6 713.5L273.5 721.8L282.3 738.5L288 751.5L291.3 756.5L295.5 760.5L295.5 770.0Z"/>
<path fill="#ffe650" fill-rule="evenodd" shape-rendering="crispEdges" d="M322.5 145.6L319.5 146.2L316 145.5L313.2 143.5L311.3 140.5L310.2 136.5L309.8 130.5L310.4 125.5L311.6 121.5L315.3 116.5L326.5 108.1L335.5 96.5L348.5 88.2L350.5 85.5L354.5 77.0L356.9 73.5L369.5 63.8L378.5 53.8L387.3 45.5L390.8 41.5L393 36.5L393.5 31.5L392.8 24.5L389.2 9.5L389.4 4.5L390.5 -2.0L447.6 -2.0L442.5 3.2L431.5 6.5L429.5 7.6L427.6 9.5L426.5 12.5L426.4 15.5L428.2 33.5L427.7 37.5L426.7 40.5L423.5 44.6L412.1 53.5L402.5 65.4L391.5 73.5L388.5 76.7L387 79.5L386.5 82.5L387.5 98.5L386.6 101.5L385.3 103.5L382.5 105.9L375.4 109.5L372.5 111.6L370.1 114.5L365.8 122.5L362.5 125.8L357.5 127.3L344.5 126.4L339.5 127.4L335.5 130.7L327.5 142.1L322.5 145.6ZM282.5 770.0L174.6 770.0L174.6 760.5L175.5 758.8L178.5 755.5L188.4 747.5L193.5 742.4L201.5 732.4L206.5 724.0L208.1 719.5L208.8 715.5L208.8 701.5L209.4 695.5L211.6 686.5L214.2 680.5L217.8 676.5L227.5 671.5L231.3 668.5L234.4 663.5L235.3 658.5L234.6 654.5L233.2 651.5L231.5 649.3L228.5 647.0L224.5 645.7L219.5 645.2L215.3 645.5L211.5 646.7L209.5 648.4L208.5 650.0L206.1 660.5L203.5 665.2L200.5 667.6L190.1 672.5L187.9 674.5L186.6 676.5L185.4 681.5L186 693.5L185.7 698.5L184.5 702.4L182.5 705.5L178.5 708.5L172.5 709.7L165.5 708.7L157.5 706.1L153.5 703.5L151.5 700.1L151.4 695.5L153.1 688.5L155.8 680.5L158.5 675.0L161.5 670.8L169.8 662.5L171.4 659.5L172.4 655.5L172.2 631.5L171.5 629.6L170.5 628.5L167.8 627.5L158.5 627.3L138.5 628.5L133.5 629.3L130.5 630.8L128.5 633.4L123.5 644.5L119.4 650.5L114.5 655.1L100.5 664.8L95.5 670.3L91 676.5L89.5 679.5L88.9 682.5L89.3 685.5L91.8 694.5L91.6 699.5L88.8 704.5L83.7 708.5L79.5 709.5L77.5 709.0L75.6 707.5L73.3 703.5L70.9 693.5L69.2 689.5L65.6 686.5L61.5 685.9L56.5 687.7L51.5 691.7L39.7 706.5L27.5 719.9L23.5 723.9L19.5 726.5L14.5 727.7L10.5 726.4L7.5 723.6L-2 713.9L-2 412.8L7.9 398.5L10.3 391.5L10.4 384.5L7.4 368.5L7.9 363.5L9.9 359.5L12.9 356.5L24.5 347.9L36.5 334.0L53.5 318.0L65.2 308.5L74.6 296.5L79.5 293.2L87.5 290.3L95.5 289.1L98.5 289.7L102 291.5L106.3 295.5L116.1 307.5L131.4 320.5L134.7 324.5L136.1 328.5L135.6 332.5L133.5 335.9L126.5 341.7L123.9 345.5L122.5 351.5L123 358.5L125.6 364.5L129.9 369.5L135.5 373.7L146.1 379.5L148.4 381.5L149.7 383.5L150.5 386.5L150.3 390.5L149 394.5L144.9 402.5L143.4 406.5L142.7 411.5L143.3 416.5L145.4 421.5L149.5 426.3L154.5 430.0L163.5 434.9L165.5 436.7L167.5 442.5L168.4 452.5L167.6 458.5L165.5 462.3L162.5 465.2L153.5 471.5L148.8 475.5L145.6 479.5L144.1 483.5L143.7 488.5L145.4 501.5L145.6 517.5L148.7 534.5L148.5 538.5L147.6 541.5L145.5 544.7L142.5 546.9L137.5 548.2L128.5 548.4L126.5 550.2L125.7 552.5L122.8 569.5L122.8 576.5L123.8 579.5L125.7 582.5L132.5 588.1L144.5 594.7L148.5 595.8L152.5 595.8L156.5 594.6L166.5 590.3L181.5 585.8L195.5 577.3L199.5 576.5L204.5 577.6L216.5 584.9L227.5 589.5L230.8 592.5L232.2 595.5L232.9 600.5L232 616.5L232.1 621.5L233.4 626.5L235.5 629.9L237.5 631.4L240.5 632.1L243.5 631.7L251.5 629.1L255.5 629.6L258.5 632.0L264.3 640.5L267.5 644.1L272.5 647.2L277.5 648.4L282.5 648.2L287.5 647.0L312.5 638.0L327.5 631.9L344.5 628.4L357.5 625.0L363.5 624.7L376.5 626.6L383.5 626.8L398.5 624.8L412.5 621.9L418.7 619.5L430.5 613.4L442.5 608.6L448.5 604.6L465.3 585.5L473.5 575.3L477.5 572.5L489.5 566.6L495.9 561.5L504.2 552.5L516.6 540.5L523.5 528.5L526.5 524.5L530.7 520.5L541.5 511.9L546.3 506.5L549.1 501.5L550.6 496.5L552.9 476.5L554.7 467.5L565.1 440.5L567.5 436.5L570.5 433.2L582.5 425.8L586.5 422.4L590 417.5L593 410.5L595 402.5L594.9 397.5L592.9 393.5L587.4 388.5L586.3 385.5L586.8 382.5L589.4 378.5L602.5 365.0L606.5 362.7L615.5 358.7L628 349.5L639.5 343.0L651 335.5L665.5 327.6L678.5 315.7L692.2 306.5L697.7 300.5L701 294.5L706.5 282.5L716 267.5L717.9 261.5L717.8 255.5L716.4 250.5L714.1 245.5L702.5 226.9L699.5 223.6L696.5 221.3L683.5 214.5L681.2 211.5L681.2 208.5L682.6 205.5L686.2 200.5L702.5 181.9L710.5 175.5L726.5 167.0L731.6 163.5L734.7 160.5L737.7 156.5L746.5 139.9L748.5 137.9L750.5 136.9L752.5 137.0L753.5 137.7L754.8 139.5L755.5 142.3L755.2 156.5L756.6 162.5L758.4 165.5L760.5 167.1L770 167.1L770 601.5L751.5 601.7L730.5 601.2L722.5 601.8L697.5 609.3L681.6 616.5L675.3 618.5L653.5 623.2L630.5 625.9L616.5 629.3L601.5 630.2L596.5 631.3L591.5 633.8L583.5 639.9L579.5 642.3L562.5 648.1L557.5 650.7L553.5 654.6L546.8 665.5L542.5 668.9L536.5 670.3L519.5 670.0L515.5 671.0L512.3 672.5L506.9 676.5L485.1 697.5L479 702.5L471.5 707.2L462.5 711.8L456.5 714.2L450.5 715.7L441.5 716.5L423.5 716.7L416.5 716.0L399.5 713.1L385.5 714.7L381.5 713.6L369.5 708.8L358.5 707.0L340.5 707.0L323.5 706.2L305.5 707.4L302.5 706.3L300.5 704.4L293.3 692.5L287.5 685.8L282.5 682.7L280.5 682.3L277.5 682.9L274.5 684.6L270.5 688.1L263.7 696.5L261 702.5L260.2 710.5L261 716.5L262.9 723.5L270.4 742.5L275.8 752.5L282.8 760.5L282.5 770.0ZM180.5 428.6L175.5 429.1L173 427.5L172.2 425.5L171.9 422.5L173.1 416.5L175.5 412.4L179.3 409.5L183.5 408.3L188.5 408.8L191 410.5L192 412.5L192.1 415.5L191.4 418.5L189.7 421.5L187.1 424.5L183.5 427.2L180.5 428.6ZM147.5 770.0L130.8 770.0L130.8 760.5L127 756.5L125.3 753.5L124.9 748.5L127.4 742.5L132 737.5L137.5 734.4L141.5 734.1L145.5 735.9L148.7 739.5L151 744.5L151.8 748.5L151.8 752.5L150.6 756.5L148.1 760.5L148.1 770.0L147.5 770.0Z"/>
<path fill="#ffcc00" fill-rule="evenodd" shape-rendering="crispEdges" d="M453.5 704.6L427.5 704.7L420.5 703.8L413.2 700.5L401.5 692.0L397.5 690.3L393.5 689.6L387.5 689.7L369.5 692.3L359.5 693.1L320.5 693.8L313.5 693.3L309.5 692.0L305.5 689.5L298.5 682.7L295.1 677.5L292.7 672.5L291.5 668.5L291.5 665.5L292.7 662.5L295 659.5L304 651.5L326.7 639.5L334 636.5L348.2 633.5L359.5 632.1L365.5 632.6L376.5 635.3L381.5 635.3L397.3 630.5L420.5 626.5L436.5 619.1L453.5 613.8L457.5 610.8L464.6 601.5L474.5 593.4L483.5 583.5L487.8 580.5L498.5 575.6L502.5 573.2L506.5 569.6L512.8 561.5L516.5 557.9L520.5 555.2L528.9 551.5L531.8 549.5L533.5 547.3L534.8 544.5L537 532.5L538.9 527.5L542.4 522.5L551.5 512.6L555.9 505.5L558.2 499.5L563.7 481.5L569.5 468.7L581.5 449.3L585.4 445.5L594.5 438.3L599.5 431.7L609.5 411.2L622.2 389.5L629.6 369.5L632.1 364.5L634.5 361.1L638.1 357.5L645.5 351.9L655.5 340.8L660.5 337.8L670.5 334.0L673.5 332.3L676.4 329.5L681.5 322.9L686 319.5L693.5 316.6L705.5 313.5L719.5 312.6L723.5 311.8L728.5 309.4L732 305.5L733.6 301.5L733.9 296.5L733.2 291.5L730.5 282.5L730.2 279.5L733.6 262.5L733.7 256.5L732.9 250.5L730.2 243.5L721.5 231.8L717.5 224.5L710.7 206.5L709.8 200.5L711.1 196.5L714.1 192.5L717.7 189.5L722.5 187.4L726.5 187.0L730.5 187.6L736 189.5L742.5 192.6L746.6 195.5L749.5 199.5L750.6 203.5L751.9 212.5L753.5 215.3L755.5 215.9L760.5 215.3L770 215.3L770 508.0L747.5 507.1L722.5 510.1L705.5 508.7L698.5 509.3L694.5 510.9L691.5 513.4L685.4 523.5L682.3 527.5L679.5 529.7L675.5 531.1L669.5 531.0L657.5 527.3L650.5 526.2L637.5 526.2L631.5 527.4L628.9 529.5L627.6 532.5L627.4 536.5L628.2 540.5L630.1 544.5L632.6 547.5L636.5 550.4L644.5 555.0L648.1 558.5L649.4 561.5L649.5 564.5L648.5 566.9L646.5 568.8L643.5 570.0L639.5 570.4L633.5 570.0L619.5 567.7L603.5 568.8L598.5 567.9L588.5 564.2L585.5 563.9L582.5 564.4L577.5 567.7L565.9 581.5L553.8 590.5L544.5 603.8L533.5 612.7L525.5 622.3L521.5 625.7L518.5 627.0L515.5 627.6L501.5 627.3L496.5 628.5L493.5 630.5L491.6 632.5L486.4 641.5L484.1 644.5L480.5 647.3L476.5 648.8L470.5 649.6L464.5 649.3L460.5 648.3L451.5 644.7L447.5 644.0L443.5 644.4L439.5 646.1L434.5 651.0L425.6 662.5L423.7 667.5L423.9 672.5L425.9 677.5L428.7 681.5L433.2 685.5L437.5 687.9L440.5 688.7L444.5 689.0L462.5 687.5L467 688.5L469.5 690.3L470.3 692.5L470.1 694.5L468.5 697.5L466.5 699.5L460.5 702.9L453.5 704.6ZM34.5 670.7L27.5 670.1L15.5 666.0L10.5 664.9L5.5 665.0L-2 666.9L-2 450.9L4.3 446.5L10.5 436.7L14.5 432.9L17.5 431.5L20.5 430.9L35.5 431.5L39.5 431.0L42.5 429.9L46.3 427.5L49.5 424.5L59.5 411.6L64.1 406.5L78.5 394.4L83.5 391.5L87.5 390.3L93.5 389.8L99.5 390.5L104.5 392.4L107.4 395.5L108.2 399.5L107 403.5L103.5 407.0L95.5 411.8L91.5 414.9L82.5 424.6L71.7 433.5L69.2 436.5L67.7 439.5L66.6 443.5L66.4 447.5L67.5 461.5L67.3 477.5L68.3 483.5L70.9 487.5L80.5 493.1L83.6 495.5L86.5 499.0L91.1 506.5L93.5 509.2L96.5 511.1L105.5 514.9L107.5 516.5L108.7 518.5L108.8 523.5L105 536.5L104 542.5L103.8 567.5L104.9 579.5L109.6 593.5L110 598.5L109.1 600.5L107.4 602.5L97.5 608.7L94.5 611.3L88.5 620.6L85.9 623.5L83 625.5L74.5 629.5L71.9 631.5L69.6 634.5L66.1 642.5L63.3 646.5L50.7 655.5L43.5 664.9L40.5 668.0L37.5 669.9L34.5 670.7ZM694 448.5L695.2 447.5L696.2 445.5L696.2 441.5L687.5 416.1L685.6 413.5L683.6 412.5L681.5 412.4L678.5 413.2L675.5 415.1L673 417.5L671 420.5L669.9 423.5L669.4 430.5L671.5 438.4L674.5 442.9L679.5 446.5L683.5 448.0L688.5 449.0L691.5 449.2L694 448.5ZM613.6 494.5L621.5 493.2L626.5 491.8L629.5 490.3L632.3 487.5L634.4 482.5L635.3 474.5L634.8 469.5L632.5 466.2L630.5 465.3L626.5 464.7L616.5 465.2L610.5 467.0L607.5 469.6L605.7 473.5L604.7 478.5L604.1 485.5L604.4 490.5L605.5 492.7L607.5 494.1L613.6 494.5ZM750.5 591.7L746.5 591.7L742.5 590.7L738.5 588.8L736 586.5L734.2 583.5L733.3 579.5L733.7 576.5L735.5 573.5L739.5 571.6L745.5 571.5L750.5 573.1L753.4 575.5L755.6 580.5L756.1 586.5L754.5 589.9L750.5 591.7ZM639.5 615.6L635.5 615.8L632.5 615.2L630.2 613.5L630.1 611.5L632.4 609.5L635.5 608.5L638.5 608.3L641.5 609.0L643.5 610.5L643.8 612.5L642.1 614.5L639.5 615.6ZM244.5 770.0L206 770.0L206.2 758.5L207.9 752.5L211.5 745.5L215.5 739.9L223.5 730.5L226.3 725.5L227.4 719.5L226.3 704.5L226.7 701.5L227.8 698.5L231.6 694.5L240.7 690.5L243.5 688.6L245.5 685.5L249.5 676.5L252.4 672.5L256.5 669.4L259.5 668.4L261.5 668.4L264.3 669.5L265.7 671.5L266 674.5L264.8 678.5L260.5 684.6L250.3 692.5L248.4 695.5L247.4 699.5L246.8 709.5L247.2 720.5L248.6 728.5L251.9 741.5L252.3 746.5L251.2 750.5L245.3 759.5L245.1 770.0L244.5 770.0Z"/>
<path fill="#ff9900" fill-rule="evenodd" shape-rendering="crispEdges" d="M755.5 374.5L739.5 375.2L728.5 374.9L725.5 373.8L723.9 372.5L722.7 370.5L722.6 367.5L723.6 365.5L725.5 364.0L728.5 363.0L731.5 362.8L751.5 363.1L761.5 363.9L764.5 364.5L770 366.5L770 367.4L770 370.7L765.5 373.0L762.5 374.0L755.5 374.5ZM659.5 408.8L656.5 409.2L654.6 408.5L652.7 406.5L651.6 404.5L650.5 398.4L651 395.5L652.5 392.7L655.4 390.5L663.5 386.9L667.5 384.2L671.1 380.5L677.5 372.2L680.5 369.4L684.5 368.1L687.3 368.5L689 369.5L690.9 372.5L691 375.5L689.7 379.5L686.4 384.5L681.5 390.3L676.1 395.5L664.5 405.5L659.5 408.8ZM770 434.5L764.5 432.9L763.3 430.5L764 422.5L762.5 414.5L763.8 407.5L762.9 399.5L764.5 396.5L770 395.1L770 434.5Z"/>
<g transform="scale(0.9184,1)" font-family="Liberation Sans, Arial, sans-serif" font-size="9.8" fill="#000" text-rendering="geometricPrecision"><text x="0.22" y="5.9">7</text><text x="21.99" y="5.9">7</text><text x="43.77" y="5.9">7</text><text x="65.55" y="5.9">6</text><text x="87.33" y="5.9">6</text><text x="109.10" y="5.9">7</text><text x="130.88" y="5.9">7</text><text x="152.66" y="5.9">7</text><text x="174.43" y="5.9">8</text><text x="196.21" y="5.9">8</text><text x="217.99" y="5.9">9</text><text x="239.76" y="5.9">10</text><text x="261.54" y="5.9">10</text><text x="283.32" y="5.9">11</text><text x="305.10" y="5.9">11</text><text x="326.87" y="5.9">13</text><text x="348.65" y="5.9">12</text><text x="370.43" y="5.9">12</text><text x="392.20" y="5.9">12</text><text x="413.98" y="5.9">13</text><text x="435.76" y="5.9">14</text><text x="457.53" y="5.9">14</text><text x="479.31" y="5.9">14</text><text x="501.09" y="5.9">13</text><text x="522.87" y="5.9">12</text><text x="544.64" y="5.9">10</text><text x="566.42" y="5.9">10</text><text x="588.20" y="5.9">11</text><text x="609.97" y="5.9">11</text><text x="631.75" y="5.9">10</text><text x="653.53" y="5.9">10</text><text x="675.30" y="5.9">9</text><text x="697.08" y="5.9">8</text><text x="718.86" y="5.9">8</text><text x="740.64" y="5.9">8</text><text x="762.41" y="5.9">8</text><text x="784.19" y="5.9">9</text><text x="805.97" y="5.9">8</text><text x="827.74" y="5.9">8</text><text x="0.22" y="25.9">7</text><text x="21.99" y="25.9">7</text><text x="43.77" y="25.9">7</text><text x="65.55" y="25.9">7</text><text x="87.33" y="25.9">7</text><text x="109.10" y="25.9">7</text><text x="130.88" y="25.9">8</text><text x="152.66" y="25.9">8</text><text x="174.43" y="25.9">9</text><text x="196.21" y="25.9">9</text><text x="217.99" y="25.9">10</text><text x="239.76" y="25.9">11</text><text x="261.54" y="25.9">11</text><text x="283.32" y="25.9">11</text><text x="305.10" y="25.9">12</text><text x="326.87" y="25.9">13</text><text x="348.65" y="25.9">13</text><text x="370.43" y="25.9">12</text><text x="392.20" y="25.9">12</text><text x="413.98" y="25.9">13</text><text x="435.76" y="25.9">14</text><text x="457.53" y="25.9">14</text><text x="479.31" y="25.9">13</text><text x="501.09" y="25.9">13</text><text x="522.87" y="25.9">12</text><text x="544.64" y="25.9">10</text><text x="566.42" y="25.9">10</text><text x="588.20" y="25.9">11</text><text x="609.97" y="25.9">11</text><text x="631.75" y="25.9">11</text><text x="653.53" y="25.9">10</text><text x="675.30" y="25.9">9</text><text x="697.08" y="25.9">9</text><text x="718.86" y="25.9">8</text><text x="740.64" y="25.9">8</text><text x="762.41" y="25.9">8</text><text x="784.19" y="25.9">8</text><text x="805.97" y="25.9">8</text><text x="827.74" y="25.9">8</text><text x="0.22" y="45.9">7</text><text x="21.99" y="45.9">7</text><text x="43.77" y="45.9">6</text><text x="65.55" y="45.9">7</text><text x="87.33" y="45.9">7</text><text x="109.10" y="45.9">7</text><text x="130.88" y="45.9">8</text><text x="152.66" y="45.9">8</text><text x="174.43" y="45.9">9</text><text x="196.21" y="45.9">9</text><text x="217.99" y="45.9">10</text><text x="239.76" y="45.9">11</text><text x="261.54" y="45.9">11</text><text x="283.32" y="45.9">12</text><text x="305.10" y="45.9">13</text><text x="326.87" y="45.9">13</text><text x="348.65" y="45.9">13</text><text x="370.43" y="45.9">12</text><text x="392.20" y="45.9">12</text><text x="413.98" y="45.9">13</text><text x="435.76" y="45.9">14</text><text x="457.53" y="45.9">14</text><text x="479.31" y="45.9">13</text><text x="501.09" y="45.9">13</text><text x="522.87" y="45.9">12</text><text x="544.64" y="45.9">10</text><text x="566.42" y="45.9">10</text><text x="588.20" y="45.9">11</text><text x="609.97" y="45.9">11</text><text x="631.75" y="45.9">11</text><text x="653.53" y="45.9">10</text><text x="675.30" y="45.9">9</text><text x="697.08" y="45.9">9</text><text x="718.86" y="45.9">8</text><text x="740.64" y="45.9">7</text><text x="762.41" y="45.9">8</text><text x="784.19" y="45.9">8</text><text x="805.97" y="45.9">8</text><text x="827.74" y="45.9">8</text><text x="0.22" y="65.9">6</text><text x="21.99" y="65.9">6</text><text x="43.77" y="65.9">6</text><text x="65.55" y="65.9">7</text><text x="87.33" y="65.9">7</text><text x="109.10" y="65.9">8</text><text x="130.88" y="65.9">8</text><text x="152.66" y="65.9">9</text><text x="174.43" y="65.9">9</text><text x="196.21" y="65.9">10</text><text x="217.99" y="65.9">11</text><text x="239.76" y="65.9">11</text><text x="261.54" y="65.9">12</text><text x="283.32" y="65.9">13</text><text x="305.10" y="65.9">13</text><text x="326.87" y="65.9">13</text><text x="348.65" y="65.9">13</text><text x="370.43" y="65.9">13</text><text x="392.20" y="65.9">13</text><text x="413.98" y="65.9">14</text><text x="435.76" y="65.9">14</text><text x="457.53" y="65.9">13</text><text x="479.31" y="65.9">13</text><text x="501.09" y="65.9">13</text><text x="522.87" y="65.9">11</text><text x="544.64" y="65.9">9</text><text x="566.42" y="65.9">10</text><text x="588.20" y="65.9">11</text><text x="609.97" y="65.9">11</text><text x="631.75" y="65.9">11</text><text x="653.53" y="65.9">10</text><text x="675.30" y="65.9">10</text><text x="697.08" y="65.9">9</text><text x="718.86" y="65.9">8</text><text x="740.64" y="65.9">6</text><text x="762.41" y="65.9">8</text><text x="784.19" y="65.9">8</text><text x="805.97" y="65.9">8</text><text x="827.74" y="65.9">9</text><text x="0.22" y="85.9">6</text><text x="21.99" y="85.9">6</text><text x="43.77" y="85.9">6</text><text x="65.55" y="85.9">7</text><text x="87.33" y="85.9">7</text><text x="109.10" y="85.9">8</text><text x="130.88" y="85.9">9</text><text x="152.66" y="85.9">9</text><text x="174.43" y="85.9">10</text><text x="196.21" y="85.9">10</text><text x="217.99" y="85.9">11</text><text x="239.76" y="85.9">12</text><text x="261.54" y="85.9">13</text><text x="283.32" y="85.9">13</text><text x="305.10" y="85.9">13</text><text x="326.87" y="85.9">13</text><text x="348.65" y="85.9">13</text><text x="370.43" y="85.9">13</text><text x="392.20" y="85.9">14</text><text x="413.98" y="85.9">14</text><text x="435.76" y="85.9">13</text><text x="457.53" y="85.9">13</text><text x="479.31" y="85.9">13</text><text x="501.09" y="85.9">13</text><text x="522.87" y="85.9">10</text><text x="544.64" y="85.9">8</text><text x="566.42" y="85.9">10</text><text x="588.20" y="85.9">11</text><text x="609.97" y="85.9">11</text><text x="631.75" y="85.9">11</text><text x="653.53" y="85.9">11</text><text x="675.30" y="85.9">10</text><text x="697.08" y="85.9">9</text><text x="718.86" y="85.9">9</text><text x="740.64" y="85.9">7</text><text x="762.41" y="85.9">8</text><text x="784.19" y="85.9">8</text><text x="805.97" y="85.9">9</text><text x="827.74" y="85.9">10</text><text x="0.22" y="105.9">7</text><text x="21.99" y="105.9">6</text><text x="43.77" y="105.9">6</text><text x="65.55" y="105.9">7</text><text x="87.33" y="105.9">7</text><text x="109.10" y="105.9">8</text><text x="130.88" y="105.9">9</text><text x="152.66" y="105.9">9</text><text x="174.43" y="105.9">10</text><text x="196.21" y="105.9">11</text><text x="217.99" y="105.9">12</text><text x="239.76" y="105.9">13</text><text x="261.54" y="105.9">13</text><text x="283.32" y="105.9">13</text><text x="305.10" y="105.9">13</text><text x="326.87" y="105.9">13</text><text x="348.65" y="105.9">13</text><text x="370.43" y="105.9">14</text><text x="392.20" y="105.9">14</text><text x="413.98" y="105.9">14</text><text x="435.76" y="105.9">13</text><text x="457.53" y="105.9">13</text><text x="479.31" y="105.9">12</text><text x="501.09" y="105.9">12</text><text x="522.87" y="105.9">10</text><text x="544.64" y="105.9">7</text><text x="566.42" y="105.9">9</text><text x="588.20" y="105.9">11</text><text x="609.97" y="105.9">11</text><text x="631.75" y="105.9">11</text><text x="653.53" y="105.9">11</text><text x="675.30" y="105.9">10</text><text x="697.08" y="105.9">10</text><text x="718.86" y="105.9">9</text><text x="740.64" y="105.9">8</text><text x="762.41" y="105.9">8</text><text x="784.19" y="105.9">7</text><text x="805.97" y="105.9">8</text><text x="827.74" y="105.9">11</text><text x="0.22" y="125.9">7</text><text x="21.99" y="125.9">6</text><text x="43.77" y="125.9">6</text><text x="65.55" y="125.9">7</text><text x="87.33" y="125.9">7</text><text x="109.10" y="125.9">9</text><text x="130.88" y="125.9">9</text><text x="152.66" y="125.9">10</text><text x="174.43" y="125.9">11</text><text x="196.21" y="125.9">11</text><text x="217.99" y="125.9">12</text><text x="239.76" y="125.9">13</text><text x="261.54" y="125.9">13</text><text x="283.32" y="125.9">13</text><text x="305.10" y="125.9">13</text><text x="326.87" y="125.9">13</text><text x="348.65" y="125.9">14</text><text x="370.43" y="125.9">14</text><text x="392.20" y="125.9">14</text><text x="413.98" y="125.9">13</text><text x="435.76" y="125.9">13</text><text x="457.53" y="125.9">12</text><text x="479.31" y="125.9">12</text><text x="501.09" y="125.9">12</text><text x="522.87" y="125.9">9</text><text x="544.64" y="125.9">6</text><text x="566.42" y="125.9">8</text><text x="588.20" y="125.9">11</text><text x="609.97" y="125.9">12</text><text x="631.75" y="125.9">12</text><text x="653.53" y="125.9">11</text><text x="675.30" y="125.9">11</text><text x="697.08" y="125.9">10</text><text x="718.86" y="125.9">9</text><text x="740.64" y="125.9">9</text><text x="762.41" y="125.9">9</text><text x="784.19" y="125.9">9</text><text x="805.97" y="125.9">11</text><text x="827.74" y="125.9">12</text><text x="0.22" y="145.9">7</text><text x="21.99" y="145.9">6</text><text x="43.77" y="145.9">6</text><text x="65.55" y="145.9">7</text><text x="87.33" y="145.9">8</text><text x="109.10" y="145.9">9</text><text x="130.88" y="145.9">10</text><text x="152.66" y="145.9">11</text><text x="174.43" y="145.9">11</text><text x="196.21" y="145.9">12</text><text x="217.99" y="145.9">13</text><text x="239.76" y="145.9">13</text><text x="261.54" y="145.9">12</text><text x="283.32" y="145.9">12</text><text x="305.10" y="145.9">13</text><text x="326.87" y="145.9">13</text><text x="348.65" y="145.9">14</text><text x="370.43" y="145.9">13</text><text x="392.20" y="145.9">13</text><text x="413.98" y="145.9">13</text><text x="435.76" y="145.9">13</text><text x="457.53" y="145.9">12</text><text x="479.31" y="145.9">12</text><text x="501.09" y="145.9">12</text><text x="522.87" y="145.9">8</text><text x="544.64" y="145.9">6</text><text x="566.42" y="145.9">7</text><text x="588.20" y="145.9">10</text><text x="609.97" y="145.9">12</text><text x="631.75" y="145.9">12</text><text x="653.53" y="145.9">12</text><text x="675.30" y="145.9">11</text><text x="697.08" y="145.9">10</text><text x="718.86" y="145.9">10</text><text x="740.64" y="145.9">9</text><text x="762.41" y="145.9">9</text><text x="784.19" y="145.9">10</text><text x="805.97" y="145.9">13</text><text x="827.74" y="145.9">13</text><text x="0.22" y="165.9">6</text><text x="21.99" y="165.9">7</text><text x="43.77" y="165.9">7</text><text x="65.55" y="165.9">8</text><text x="87.33" y="165.9">9</text><text x="109.10" y="165.9">10</text><text x="130.88" y="165.9">11</text><text x="152.66" y="165.9">12</text><text x="174.43" y="165.9">12</text><text x="196.21" y="165.9">12</text><text x="217.99" y="165.9">12</text><text x="239.76" y="165.9">12</text><text x="261.54" y="165.9">12</text><text x="283.32" y="165.9">13</text><text x="305.10" y="165.9">13</text><text x="326.87" y="165.9">13</text><text x="348.65" y="165.9">13</text><text x="370.43" y="165.9">13</text><text x="392.20" y="165.9">13</text><text x="413.98" y="165.9">12</text><text x="435.76" y="165.9">13</text><text x="457.53" y="165.9">13</text><text x="479.31" y="165.9">12</text><text x="501.09" y="165.9">12</text><text x="522.87" y="165.9">7</text><text x="544.64" y="165.9">6</text><text x="566.42" y="165.9">5</text><text x="588.20" y="165.9">7</text><text x="609.97" y="165.9">10</text><text x="631.75" y="165.9">12</text><text x="653.53" y="165.9">13</text><text x="675.30" y="165.9">11</text><text x="697.08" y="165.9">10</text><text x="718.86" y="165.9">10</text><text x="740.64" y="165.9">9</text><text x="762.41" y="165.9">10</text><text x="784.19" y="165.9">12</text><text x="805.97" y="165.9">14</text><text x="827.74" y="165.9">13</text><text x="0.22" y="185.9">7</text><text x="21.99" y="185.9">8</text><text x="43.77" y="185.9">8</text><text x="65.55" y="185.9">9</text><text x="87.33" y="185.9">10</text><text x="109.10" y="185.9">11</text><text x="130.88" y="185.9">11</text><text x="152.66" y="185.9">12</text><text x="174.43" y="185.9">11</text><text x="196.21" y="185.9">11</text><text x="217.99" y="185.9">10</text><text x="239.76" y="185.9">10</text><text x="261.54" y="185.9">10</text><text x="283.32" y="185.9">11</text><text x="305.10" y="185.9">12</text><text x="326.87" y="185.9">12</text><text x="348.65" y="185.9">13</text><text x="370.43" y="185.9">13</text><text x="392.20" y="185.9">11</text><text x="413.98" y="185.9">11</text><text x="435.76" y="185.9">11</text><text x="457.53" y="185.9">11</text><text x="479.31" y="185.9">11</text><text x="501.09" y="185.9">11</text><text x="522.87" y="185.9">7</text><text x="544.64" y="185.9">6</text><text x="566.42" y="185.9">5</text><text x="588.20" y="185.9">4</text><text x="609.97" y="185.9">6</text><text x="631.75" y="185.9">9</text><text x="653.53" y="185.9">12</text><text x="675.30" y="185.9">12</text><text x="697.08" y="185.9">11</text><text x="718.86" y="185.9">10</text><text x="740.64" y="185.9">10</text><text x="762.41" y="185.9">13</text><text x="784.19" y="185.9">15</text><text x="805.97" y="185.9">15</text><text x="827.74" y="185.9">15</text><text x="0.22" y="205.9">7</text><text x="21.99" y="205.9">8</text><text x="43.77" y="205.9">9</text><text x="65.55" y="205.9">10</text><text x="87.33" y="205.9">11</text><text x="109.10" y="205.9">11</text><text x="130.88" y="205.9">11</text><text x="152.66" y="205.9">12</text><text x="174.43" y="205.9">11</text><text x="196.21" y="205.9">10</text><text x="217.99" y="205.9">9</text><text x="239.76" y="205.9">7</text><text x="261.54" y="205.9">7</text><text x="283.32" y="205.9">8</text><text x="305.10" y="205.9">9</text><text x="326.87" y="205.9">9</text><text x="348.65" y="205.9">10</text><text x="370.43" y="205.9">10</text><text x="392.20" y="205.9">10</text><text x="413.98" y="205.9">9</text><text x="435.76" y="205.9">8</text><text x="457.53" y="205.9">8</text><text x="479.31" y="205.9">8</text><text x="501.09" y="205.9">7</text><text x="522.87" y="205.9">7</text><text x="544.64" y="205.9">6</text><text x="566.42" y="205.9">5</text><text x="588.20" y="205.9">4</text><text x="609.97" y="205.9">3</text><text x="631.75" y="205.9">3</text><text x="653.53" y="205.9">6</text><text x="675.30" y="205.9">10</text><text x="697.08" y="205.9">12</text><text x="718.86" y="205.9">12</text><text x="740.64" y="205.9">13</text><text x="762.41" y="205.9">15</text><text x="784.19" y="205.9">16</text><text x="805.97" y="205.9">16</text><text x="827.74" y="205.9">15</text><text x="0.22" y="225.9">8</text><text x="21.99" y="225.9">9</text><text x="43.77" y="225.9">10</text><text x="65.55" y="225.9">10</text><text x="87.33" y="225.9">11</text><text x="109.10" y="225.9">11</text><text x="130.88" y="225.9">11</text><text x="152.66" y="225.9">11</text><text x="174.43" y="225.9">10</text><text x="196.21" y="225.9">10</text><text x="217.99" y="225.9">8</text><text x="239.76" y="225.9">7</text><text x="261.54" y="225.9">6</text><text x="283.32" y="225.9">7</text><text x="305.10" y="225.9">8</text><text x="326.87" y="225.9">8</text><text x="348.65" y="225.9">8</text><text x="370.43" y="225.9">9</text><text x="392.20" y="225.9">9</text><text x="413.98" y="225.9">8</text><text x="435.76" y="225.9">7</text><text x="457.53" y="225.9">6</text><text x="479.31" y="225.9">6</text><text x="501.09" y="225.9">6</text><text x="522.87" y="225.9">5</text><text x="544.64" y="225.9">4</text><text x="566.42" y="225.9">3</text><text x="588.20" y="225.9">2</text><text x="609.97" y="225.9">2</text><text x="631.75" y="225.9">2</text><text x="653.53" y="225.9">1</text><text x="672.36" y="225.9">-1</text><text x="697.08" y="225.9">4</text><text x="718.86" y="225.9">10</text><text x="740.64" y="225.9">13</text><text x="762.41" y="225.9">14</text><text x="784.19" y="225.9">16</text><text x="805.97" y="225.9">16</text><text x="827.74" y="225.9">16</text><text x="0.22" y="245.9">9</text><text x="21.99" y="245.9">10</text><text x="43.77" y="245.9">10</text><text x="65.55" y="245.9">11</text><text x="87.33" y="245.9">12</text><text x="109.10" y="245.9">12</text><text x="130.88" y="245.9">12</text><text x="152.66" y="245.9">11</text><text x="174.43" y="245.9">10</text><text x="196.21" y="245.9">10</text><text x="217.99" y="245.9">8</text><text x="239.76" y="245.9">9</text><text x="261.54" y="245.9">8</text><text x="283.32" y="245.9">9</text><text x="305.10" y="245.9">10</text><text x="326.87" y="245.9">10</text><text x="348.65" y="245.9">10</text><text x="370.43" y="245.9">9</text><text x="392.20" y="245.9">9</text><text x="413.98" y="245.9">8</text><text x="435.76" y="245.9">6</text><text x="457.53" y="245.9">6</text><text x="479.31" y="245.9">6</text><text x="501.09" y="245.9">6</text><text x="522.87" y="245.9">6</text><text x="544.64" y="245.9">5</text><text x="566.42" y="245.9">3</text><text x="588.20" y="245.9">1</text><text x="609.97" y="245.9">1</text><text x="631.75" y="245.9">1</text><text x="653.53" y="245.9">0</text><text x="672.36" y="245.9">-2</text><text x="694.14" y="245.9">-4</text><text x="718.86" y="245.9">0</text><text x="740.64" y="245.9">9</text><text x="762.41" y="245.9">12</text><text x="784.19" y="245.9">15</text><text x="805.97" y="245.9">16</text><text x="827.74" y="245.9">17</text><text x="0.22" y="265.9">10</text><text x="21.99" y="265.9">11</text><text x="43.77" y="265.9">11</text><text x="65.55" y="265.9">12</text><text x="87.33" y="265.9">13</text><text x="109.10" y="265.9">12</text><text x="130.88" y="265.9">12</text><text x="152.66" y="265.9">11</text><text x="174.43" y="265.9">11</text><text x="196.21" y="265.9">9</text><text x="217.99" y="265.9">9</text><text x="239.76" y="265.9">8</text><text x="261.54" y="265.9">8</text><text x="283.32" y="265.9">10</text><text x="305.10" y="265.9">10</text><text x="326.87" y="265.9">10</text><text x="348.65" y="265.9">10</text><text x="370.43" y="265.9">9</text><text x="392.20" y="265.9">8</text><text x="413.98" y="265.9">8</text><text x="435.76" y="265.9">7</text><text x="457.53" y="265.9">7</text><text x="479.31" y="265.9">7</text><text x="501.09" y="265.9">6</text><text x="522.87" y="265.9">6</text><text x="544.64" y="265.9">6</text><text x="566.42" y="265.9">5</text><text x="588.20" y="265.9">3</text><text x="609.97" y="265.9">3</text><text x="631.75" y="265.9">2</text><text x="653.53" y="265.9">2</text><text x="675.30" y="265.9">0</text><text x="694.14" y="265.9">-3</text><text x="715.92" y="265.9">-2</text><text x="740.64" y="265.9">6</text><text x="762.41" y="265.9">10</text><text x="784.19" y="265.9">14</text><text x="805.97" y="265.9">16</text><text x="827.74" y="265.9">16</text><text x="0.22" y="285.9">10</text><text x="21.99" y="285.9">11</text><text x="43.77" y="285.9">12</text><text x="65.55" y="285.9">13</text><text x="87.33" y="285.9">13</text><text x="109.10" y="285.9">13</text><text x="130.88" y="285.9">12</text><text x="152.66" y="285.9">11</text><text x="174.43" y="285.9">10</text><text x="196.21" y="285.9">10</text><text x="217.99" y="285.9">9</text><text x="239.76" y="285.9">8</text><text x="261.54" y="285.9">9</text><text x="283.32" y="285.9">10</text><text x="305.10" y="285.9">11</text><text x="326.87" y="285.9">10</text><text x="348.65" y="285.9">9</text><text x="370.43" y="285.9">9</text><text x="392.20" y="285.9">8</text><text x="413.98" y="285.9">7</text><text x="435.76" y="285.9">7</text><text x="457.53" y="285.9">7</text><text x="479.31" y="285.9">8</text><text x="501.09" y="285.9">7</text><text x="522.87" y="285.9">7</text><text x="544.64" y="285.9">6</text><text x="566.42" y="285.9">5</text><text x="588.20" y="285.9">5</text><text x="609.97" y="285.9">5</text><text x="631.75" y="285.9">4</text><text x="653.53" y="285.9">4</text><text x="675.30" y="285.9">3</text><text x="697.08" y="285.9">3</text><text x="718.86" y="285.9">4</text><text x="740.64" y="285.9">6</text><text x="762.41" y="285.9">12</text><text x="784.19" y="285.9">15</text><text x="805.97" y="285.9">16</text><text x="827.74" y="285.9">16</text><text x="0.22" y="305.9">11</text><text x="21.99" y="305.9">11</text><text x="43.77" y="305.9">12</text><text x="65.55" y="305.9">13</text><text x="87.33" y="305.9">14</text><text x="109.10" y="305.9">14</text><text x="130.88" y="305.9">13</text><text x="152.66" y="305.9">11</text><text x="174.43" y="305.9">10</text><text x="196.21" y="305.9">11</text><text x="217.99" y="305.9">11</text><text x="239.76" y="305.9">10</text><text x="261.54" y="305.9">10</text><text x="283.32" y="305.9">11</text><text x="305.10" y="305.9">11</text><text x="326.87" y="305.9">10</text><text x="348.65" y="305.9">9</text><text x="370.43" y="305.9">8</text><text x="392.20" y="305.9">8</text><text x="413.98" y="305.9">7</text><text x="435.76" y="305.9">8</text><text x="457.53" y="305.9">8</text><text x="479.31" y="305.9">7</text><text x="501.09" y="305.9">7</text><text x="522.87" y="305.9">7</text><text x="544.64" y="305.9">7</text><text x="566.42" y="305.9">7</text><text x="588.20" y="305.9">6</text><text x="609.97" y="305.9">6</text><text x="631.75" y="305.9">5</text><text x="653.53" y="305.9">6</text><text x="675.30" y="305.9">5</text><text x="697.08" y="305.9">5</text><text x="718.86" y="305.9">6</text><text x="740.64" y="305.9">9</text><text x="762.41" y="305.9">14</text><text x="784.19" y="305.9">15</text><text x="805.97" y="305.9">16</text><text x="827.74" y="305.9">16</text><text x="0.22" y="325.9">11</text><text x="21.99" y="325.9">12</text><text x="43.77" y="325.9">13</text><text x="65.55" y="325.9">14</text><text x="87.33" y="325.9">14</text><text x="109.10" y="325.9">14</text><text x="130.88" y="325.9">14</text><text x="152.66" y="325.9">13</text><text x="174.43" y="325.9">11</text><text x="196.21" y="325.9">11</text><text x="217.99" y="325.9">12</text><text x="239.76" y="325.9">11</text><text x="261.54" y="325.9">11</text><text x="283.32" y="325.9">11</text><text x="305.10" y="325.9">10</text><text x="326.87" y="325.9">9</text><text x="348.65" y="325.9">8</text><text x="370.43" y="325.9">8</text><text x="392.20" y="325.9">8</text><text x="413.98" y="325.9">8</text><text x="435.76" y="325.9">8</text><text x="457.53" y="325.9">8</text><text x="479.31" y="325.9">7</text><text x="501.09" y="325.9">7</text><text x="522.87" y="325.9">7</text><text x="544.64" y="325.9">6</text><text x="566.42" y="325.9">8</text><text x="588.20" y="325.9">8</text><text x="609.97" y="325.9">7</text><text x="631.75" y="325.9">6</text><text x="653.53" y="325.9">5</text><text x="675.30" y="325.9">5</text><text x="697.08" y="325.9">7</text><text x="718.86" y="325.9">10</text><text x="740.64" y="325.9">15</text><text x="762.41" y="325.9">16</text><text x="784.19" y="325.9">16</text><text x="805.97" y="325.9">16</text><text x="827.74" y="325.9">16</text><text x="0.22" y="345.9">12</text><text x="21.99" y="345.9">13</text><text x="43.77" y="345.9">14</text><text x="65.55" y="345.9">14</text><text x="87.33" y="345.9">14</text><text x="109.10" y="345.9">15</text><text x="130.88" y="345.9">14</text><text x="152.66" y="345.9">13</text><text x="174.43" y="345.9">11</text><text x="196.21" y="345.9">12</text><text x="217.99" y="345.9">13</text><text x="239.76" y="345.9">12</text><text x="261.54" y="345.9">11</text><text x="283.32" y="345.9">10</text><text x="305.10" y="345.9">9</text><text x="326.87" y="345.9">8</text><text x="348.65" y="345.9">8</text><text x="370.43" y="345.9">8</text><text x="392.20" y="345.9">8</text><text x="413.98" y="345.9">8</text><text x="435.76" y="345.9">8</text><text x="457.53" y="345.9">8</text><text x="479.31" y="345.9">7</text><text x="501.09" y="345.9">7</text><text x="522.87" y="345.9">6</text><text x="544.64" y="345.9">5</text><text x="566.42" y="345.9">7</text><text x="588.20" y="345.9">8</text><text x="609.97" y="345.9">9</text><text x="631.75" y="345.9">7</text><text x="653.53" y="345.9">9</text><text x="675.30" y="345.9">11</text><text x="697.08" y="345.9">13</text><text x="718.86" y="345.9">16</text><text x="740.64" y="345.9">16</text><text x="762.41" y="345.9">16</text><text x="784.19" y="345.9">16</text><text x="805.97" y="345.9">16</text><text x="827.74" y="345.9">17</text><text x="0.22" y="365.9">13</text><text x="21.99" y="365.9">14</text><text x="43.77" y="365.9">14</text><text x="65.55" y="365.9">14</text><text x="87.33" y="365.9">15</text><text x="109.10" y="365.9">15</text><text x="130.88" y="365.9">14</text><text x="152.66" y="365.9">12</text><text x="174.43" y="365.9">12</text><text x="196.21" y="365.9">12</text><text x="217.99" y="365.9">13</text><text x="239.76" y="365.9">12</text><text x="261.54" y="365.9">11</text><text x="283.32" y="365.9">10</text><text x="305.10" y="365.9">8</text><text x="326.87" y="365.9">8</text><text x="348.65" y="365.9">9</text><text x="370.43" y="365.9">8</text><text x="392.20" y="365.9">9</text><text x="413.98" y="365.9">9</text><text x="435.76" y="365.9">8</text><text x="457.53" y="365.9">7</text><text x="479.31" y="365.9">7</text><text x="501.09" y="365.9">7</text><text x="522.87" y="365.9">5</text><text x="544.64" y="365.9">4</text><text x="566.42" y="365.9">4</text><text x="588.20" y="365.9">5</text><text x="609.97" y="365.9">8</text><text x="631.75" y="365.9">10</text><text x="653.53" y="365.9">13</text><text x="675.30" y="365.9">14</text><text x="697.08" y="365.9">16</text><text x="718.86" y="365.9">16</text><text x="740.64" y="365.9">17</text><text x="762.41" y="365.9">17</text><text x="784.19" y="365.9">17</text><text x="805.97" y="365.9">17</text><text x="827.74" y="365.9">17</text><text x="0.22" y="385.9">13</text><text x="21.99" y="385.9">14</text><text x="43.77" y="385.9">14</text><text x="65.55" y="385.9">14</text><text x="87.33" y="385.9">15</text><text x="109.10" y="385.9">15</text><text x="130.88" y="385.9">15</text><text x="152.66" y="385.9">14</text><text x="174.43" y="385.9">13</text><text x="196.21" y="385.9">12</text><text x="217.99" y="385.9">12</text><text x="239.76" y="385.9">12</text><text x="261.54" y="385.9">11</text><text x="283.32" y="385.9">10</text><text x="305.10" y="385.9">8</text><text x="326.87" y="385.9">7</text><text x="348.65" y="385.9">9</text><text x="370.43" y="385.9">9</text><text x="392.20" y="385.9">9</text><text x="413.98" y="385.9">9</text><text x="435.76" y="385.9">8</text><text x="457.53" y="385.9">7</text><text x="479.31" y="385.9">7</text><text x="501.09" y="385.9">6</text><text x="522.87" y="385.9">5</text><text x="544.64" y="385.9">4</text><text x="566.42" y="385.9">3</text><text x="588.20" y="385.9">4</text><text x="609.97" y="385.9">9</text><text x="631.75" y="385.9">13</text><text x="653.53" y="385.9">14</text><text x="675.30" y="385.9">15</text><text x="697.08" y="385.9">17</text><text x="718.86" y="385.9">17</text><text x="740.64" y="385.9">18</text><text x="762.41" y="385.9">17</text><text x="784.19" y="385.9">17</text><text x="805.97" y="385.9">17</text><text x="827.74" y="385.9">17</text><text x="0.22" y="405.9">13</text><text x="21.99" y="405.9">14</text><text x="43.77" y="405.9">14</text><text x="65.55" y="405.9">15</text><text x="87.33" y="405.9">16</text><text x="109.10" y="405.9">16</text><text x="130.88" y="405.9">15</text><text x="152.66" y="405.9">14</text><text x="174.43" y="405.9">13</text><text x="196.21" y="405.9">13</text><text x="217.99" y="405.9">13</text><text x="239.76" y="405.9">12</text><text x="261.54" y="405.9">11</text><text x="283.32" y="405.9">9</text><text x="305.10" y="405.9">8</text><text x="326.87" y="405.9">9</text><text x="348.65" y="405.9">9</text><text x="370.43" y="405.9">9</text><text x="392.20" y="405.9">10</text><text x="413.98" y="405.9">9</text><text x="435.76" y="405.9">9</text><text x="457.53" y="405.9">8</text><text x="479.31" y="405.9">6</text><text x="501.09" y="405.9">5</text><text x="522.87" y="405.9">6</text><text x="544.64" y="405.9">5</text><text x="566.42" y="405.9">3</text><text x="588.20" y="405.9">5</text><text x="609.97" y="405.9">11</text><text x="631.75" y="405.9">13</text><text x="653.53" y="405.9">14</text><text x="675.30" y="405.9">16</text><text x="697.08" y="405.9">17</text><text x="718.86" y="405.9">18</text><text x="740.64" y="405.9">17</text><text x="762.41" y="405.9">16</text><text x="784.19" y="405.9">17</text><text x="805.97" y="405.9">17</text><text x="827.74" y="405.9">17</text><text x="0.22" y="425.9">14</text><text x="21.99" y="425.9">15</text><text x="43.77" y="425.9">15</text><text x="65.55" y="425.9">16</text><text x="87.33" y="425.9">16</text><text x="109.10" y="425.9">15</text><text x="130.88" y="425.9">15</text><text x="152.66" y="425.9">14</text><text x="174.43" y="425.9">13</text><text x="196.21" y="425.9">14</text><text x="217.99" y="425.9">13</text><text x="239.76" y="425.9">12</text><text x="261.54" y="425.9">11</text><text x="283.32" y="425.9">11</text><text x="305.10" y="425.9">10</text><text x="326.87" y="425.9">10</text><text x="348.65" y="425.9">10</text><text x="370.43" y="425.9">9</text><text x="392.20" y="425.9">10</text><text x="413.98" y="425.9">9</text><text x="435.76" y="425.9">8</text><text x="457.53" y="425.9">8</text><text x="479.31" y="425.9">6</text><text x="501.09" y="425.9">6</text><text x="522.87" y="425.9">6</text><text x="544.64" y="425.9">5</text><text x="566.42" y="425.9">5</text><text x="588.20" y="425.9">8</text><text x="609.97" y="425.9">12</text><text x="631.75" y="425.9">13</text><text x="653.53" y="425.9">15</text><text x="675.30" y="425.9">17</text><text x="697.08" y="425.9">17</text><text x="718.86" y="425.9">17</text><text x="740.64" y="425.9">15</text><text x="762.41" y="425.9">17</text><text x="784.19" y="425.9">17</text><text x="805.97" y="425.9">17</text><text x="827.74" y="425.9">17</text><text x="0.22" y="445.9">15</text><text x="21.99" y="445.9">16</text><text x="43.77" y="445.9">16</text><text x="65.55" y="445.9">16</text><text x="87.33" y="445.9">15</text><text x="109.10" y="445.9">15</text><text x="130.88" y="445.9">15</text><text x="152.66" y="445.9">15</text><text x="174.43" y="445.9">14</text><text x="196.21" y="445.9">13</text><text x="217.99" y="445.9">12</text><text x="239.76" y="445.9">12</text><text x="261.54" y="445.9">11</text><text x="283.32" y="445.9">11</text><text x="305.10" y="445.9">10</text><text x="326.87" y="445.9">10</text><text x="348.65" y="445.9">9</text><text x="370.43" y="445.9">9</text><text x="392.20" y="445.9">9</text><text x="413.98" y="445.9">9</text><text x="435.76" y="445.9">8</text><text x="457.53" y="445.9">8</text><text x="479.31" y="445.9">7</text><text x="501.09" y="445.9">6</text><text x="522.87" y="445.9">6</text><text x="544.64" y="445.9">6</text><text x="566.42" y="445.9">7</text><text x="588.20" y="445.9">10</text><text x="609.97" y="445.9">13</text><text x="631.75" y="445.9">15</text><text x="653.53" y="445.9">16</text><text x="675.30" y="445.9">17</text><text x="697.08" y="445.9">17</text><text x="718.86" y="445.9">17</text><text x="740.64" y="445.9">15</text><text x="762.41" y="445.9">16</text><text x="784.19" y="445.9">17</text><text x="805.97" y="445.9">17</text><text x="827.74" y="445.9">17</text><text x="0.22" y="465.9">16</text><text x="21.99" y="465.9">16</text><text x="43.77" y="465.9">16</text><text x="65.55" y="465.9">16</text><text x="87.33" y="465.9">15</text><text x="109.10" y="465.9">15</text><text x="130.88" y="465.9">15</text><text x="152.66" y="465.9">15</text><text x="174.43" y="465.9">14</text><text x="196.21" y="465.9">13</text><text x="217.99" y="465.9">12</text><text x="239.76" y="465.9">12</text><text x="261.54" y="465.9">11</text><text x="283.32" y="465.9">11</text><text x="305.10" y="465.9">10</text><text x="326.87" y="465.9">10</text><text x="348.65" y="465.9">9</text><text x="370.43" y="465.9">10</text><text x="392.20" y="465.9">10</text><text x="413.98" y="465.9">9</text><text x="435.76" y="465.9">8</text><text x="457.53" y="465.9">8</text><text x="479.31" y="465.9">7</text><text x="501.09" y="465.9">7</text><text x="522.87" y="465.9">7</text><text x="544.64" y="465.9">7</text><text x="566.42" y="465.9">7</text><text x="588.20" y="465.9">11</text><text x="609.97" y="465.9">14</text><text x="631.75" y="465.9">16</text><text x="653.53" y="465.9">16</text><text x="675.30" y="465.9">16</text><text x="697.08" y="465.9">16</text><text x="718.86" y="465.9">17</text><text x="740.64" y="465.9">17</text><text x="762.41" y="465.9">16</text><text x="784.19" y="465.9">17</text><text x="805.97" y="465.9">17</text><text x="827.74" y="465.9">17</text><text x="0.22" y="485.9">16</text><text x="21.99" y="485.9">16</text><text x="43.77" y="485.9">16</text><text x="65.55" y="485.9">16</text><text x="87.33" y="485.9">15</text><text x="109.10" y="485.9">15</text><text x="130.88" y="485.9">15</text><text x="152.66" y="485.9">14</text><text x="174.43" y="485.9">13</text><text x="196.21" y="485.9">13</text><text x="217.99" y="485.9">12</text><text x="239.76" y="485.9">12</text><text x="261.54" y="485.9">11</text><text x="283.32" y="485.9">11</text><text x="305.10" y="485.9">10</text><text x="326.87" y="485.9">10</text><text x="348.65" y="485.9">10</text><text x="370.43" y="485.9">10</text><text x="392.20" y="485.9">9</text><text x="413.98" y="485.9">8</text><text x="435.76" y="485.9">8</text><text x="457.53" y="485.9">7</text><text x="479.31" y="485.9">7</text><text x="501.09" y="485.9">6</text><text x="522.87" y="485.9">5</text><text x="544.64" y="485.9">6</text><text x="566.42" y="485.9">7</text><text x="588.20" y="485.9">11</text><text x="609.97" y="485.9">15</text><text x="631.75" y="485.9">17</text><text x="653.53" y="485.9">16</text><text x="675.30" y="485.9">15</text><text x="697.08" y="485.9">16</text><text x="718.86" y="485.9">17</text><text x="740.64" y="485.9">17</text><text x="762.41" y="485.9">16</text><text x="784.19" y="485.9">16</text><text x="805.97" y="485.9">16</text><text x="827.74" y="485.9">16</text><text x="0.22" y="505.9">16</text><text x="21.99" y="505.9">16</text><text x="43.77" y="505.9">16</text><text x="65.55" y="505.9">16</text><text x="87.33" y="505.9">16</text><text x="109.10" y="505.9">15</text><text x="130.88" y="505.9">15</text><text x="152.66" y="505.9">14</text><text x="174.43" y="505.9">13</text><text x="196.21" y="505.9">13</text><text x="217.99" y="505.9">12</text><text x="239.76" y="505.9">11</text><text x="261.54" y="505.9">11</text><text x="283.32" y="505.9">11</text><text x="305.10" y="505.9">10</text><text x="326.87" y="505.9">10</text><text x="348.65" y="505.9">10</text><text x="370.43" y="505.9">9</text><text x="392.20" y="505.9">9</text><text x="413.98" y="505.9">8</text><text x="435.76" y="505.9">8</text><text x="457.53" y="505.9">7</text><text x="479.31" y="505.9">5</text><text x="501.09" y="505.9">6</text><text x="522.87" y="505.9">6</text><text x="544.64" y="505.9">6</text><text x="566.42" y="505.9">7</text><text x="588.20" y="505.9">11</text><text x="609.97" y="505.9">16</text><text x="631.75" y="505.9">17</text><text x="653.53" y="505.9">16</text><text x="675.30" y="505.9">16</text><text x="697.08" y="505.9">16</text><text x="718.86" y="505.9">16</text><text x="740.64" y="505.9">16</text><text x="762.41" y="505.9">16</text><text x="784.19" y="505.9">16</text><text x="805.97" y="505.9">16</text><text x="827.74" y="505.9">16</text><text x="0.22" y="525.9">16</text><text x="21.99" y="525.9">16</text><text x="43.77" y="525.9">17</text><text x="65.55" y="525.9">17</text><text x="87.33" y="525.9">16</text><text x="109.10" y="525.9">16</text><text x="130.88" y="525.9">15</text><text x="152.66" y="525.9">14</text><text x="174.43" y="525.9">13</text><text x="196.21" y="525.9">13</text><text x="217.99" y="525.9">12</text><text x="239.76" y="525.9">11</text><text x="261.54" y="525.9">11</text><text x="283.32" y="525.9">11</text><text x="305.10" y="525.9">10</text><text x="326.87" y="525.9">9</text><text x="348.65" y="525.9">10</text><text x="370.43" y="525.9">10</text><text x="392.20" y="525.9">9</text><text x="413.98" y="525.9">9</text><text x="435.76" y="525.9">8</text><text x="457.53" y="525.9">4</text><text x="479.31" y="525.9">5</text><text x="501.09" y="525.9">7</text><text x="522.87" y="525.9">8</text><text x="544.64" y="525.9">10</text><text x="566.42" y="525.9">12</text><text x="588.20" y="525.9">15</text><text x="609.97" y="525.9">17</text><text x="631.75" y="525.9">17</text><text x="653.53" y="525.9">17</text><text x="675.30" y="525.9">16</text><text x="697.08" y="525.9">16</text><text x="718.86" y="525.9">16</text><text x="740.64" y="525.9">16</text><text x="762.41" y="525.9">15</text><text x="784.19" y="525.9">15</text><text x="805.97" y="525.9">15</text><text x="827.74" y="525.9">15</text><text x="0.22" y="545.9">17</text><text x="21.99" y="545.9">17</text><text x="43.77" y="545.9">17</text><text x="65.55" y="545.9">17</text><text x="87.33" y="545.9">16</text><text x="109.10" y="545.9">16</text><text x="130.88" y="545.9">14</text><text x="152.66" y="545.9">14</text><text x="174.43" y="545.9">13</text><text x="196.21" y="545.9">13</text><text x="217.99" y="545.9">12</text><text x="239.76" y="545.9">11</text><text x="261.54" y="545.9">11</text><text x="283.32" y="545.9">10</text><text x="305.10" y="545.9">10</text><text x="326.87" y="545.9">10</text><text x="348.65" y="545.9">11</text><text x="370.43" y="545.9">11</text><text x="392.20" y="545.9">10</text><text x="413.98" y="545.9">9</text><text x="435.76" y="545.9">5</text><text x="457.53" y="545.9">3</text><text x="479.31" y="545.9">4</text><text x="501.09" y="545.9">8</text><text x="522.87" y="545.9">11</text><text x="544.64" y="545.9">12</text><text x="566.42" y="545.9">14</text><text x="588.20" y="545.9">16</text><text x="609.97" y="545.9">17</text><text x="631.75" y="545.9">17</text><text x="653.53" y="545.9">16</text><text x="675.30" y="545.9">16</text><text x="697.08" y="545.9">15</text><text x="718.86" y="545.9">15</text><text x="740.64" y="545.9">15</text><text x="762.41" y="545.9">14</text><text x="784.19" y="545.9">14</text><text x="805.97" y="545.9">15</text><text x="827.74" y="545.9">15</text><text x="0.22" y="565.9">17</text><text x="21.99" y="565.9">17</text><text x="43.77" y="565.9">17</text><text x="65.55" y="565.9">17</text><text x="87.33" y="565.9">17</text><text x="109.10" y="565.9">16</text><text x="130.88" y="565.9">14</text><text x="152.66" y="565.9">13</text><text x="174.43" y="565.9">13</text><text x="196.21" y="565.9">13</text><text x="217.99" y="565.9">12</text><text x="239.76" y="565.9">12</text><text x="261.54" y="565.9">12</text><text x="283.32" y="565.9">12</text><text x="305.10" y="565.9">11</text><text x="326.87" y="565.9">11</text><text x="348.65" y="565.9">12</text><text x="370.43" y="565.9">10</text><text x="392.20" y="565.9">6</text><text x="413.98" y="565.9">8</text><text x="435.76" y="565.9">7</text><text x="457.53" y="565.9">6</text><text x="479.31" y="565.9">6</text><text x="501.09" y="565.9">11</text><text x="522.87" y="565.9">12</text><text x="544.64" y="565.9">14</text><text x="566.42" y="565.9">16</text><text x="588.20" y="565.9">16</text><text x="609.97" y="565.9">17</text><text x="631.75" y="565.9">16</text><text x="653.53" y="565.9">16</text><text x="675.30" y="565.9">16</text><text x="697.08" y="565.9">16</text><text x="718.86" y="565.9">15</text><text x="740.64" y="565.9">14</text><text x="762.41" y="565.9">14</text><text x="784.19" y="565.9">15</text><text x="805.97" y="565.9">15</text><text x="827.74" y="565.9">15</text><text x="0.22" y="585.9">17</text><text x="21.99" y="585.9">17</text><text x="43.77" y="585.9">17</text><text x="65.55" y="585.9">17</text><text x="87.33" y="585.9">16</text><text x="109.10" y="585.9">16</text><text x="130.88" y="585.9">14</text><text x="152.66" y="585.9">13</text><text x="174.43" y="585.9">13</text><text x="196.21" y="585.9">13</text><text x="217.99" y="585.9">14</text><text x="239.76" y="585.9">13</text><text x="261.54" y="585.9">13</text><text x="283.32" y="585.9">12</text><text x="305.10" y="585.9">12</text><text x="326.87" y="585.9">12</text><text x="348.65" y="585.9">11</text><text x="370.43" y="585.9">8</text><text x="392.20" y="585.9">5</text><text x="413.98" y="585.9">2</text><text x="435.76" y="585.9">4</text><text x="457.53" y="585.9">5</text><text x="479.31" y="585.9">8</text><text x="501.09" y="585.9">12</text><text x="522.87" y="585.9">15</text><text x="544.64" y="585.9">16</text><text x="566.42" y="585.9">16</text><text x="588.20" y="585.9">16</text><text x="609.97" y="585.9">16</text><text x="631.75" y="585.9">15</text><text x="653.53" y="585.9">15</text><text x="675.30" y="585.9">15</text><text x="697.08" y="585.9">15</text><text x="718.86" y="585.9">15</text><text x="740.64" y="585.9">14</text><text x="762.41" y="585.9">15</text><text x="784.19" y="585.9">15</text><text x="805.97" y="585.9">16</text><text x="827.74" y="585.9">15</text><text x="0.22" y="605.9">17</text><text x="21.99" y="605.9">17</text><text x="43.77" y="605.9">17</text><text x="65.55" y="605.9">17</text><text x="87.33" y="605.9">16</text><text x="109.10" y="605.9">16</text><text x="130.88" y="605.9">15</text><text x="152.66" y="605.9">14</text><text x="174.43" y="605.9">14</text><text x="196.21" y="605.9">15</text><text x="217.99" y="605.9">15</text><text x="239.76" y="605.9">15</text><text x="261.54" y="605.9">13</text><text x="283.32" y="605.9">13</text><text x="305.10" y="605.9">12</text><text x="326.87" y="605.9">11</text><text x="348.65" y="605.9">10</text><text x="370.43" y="605.9">6</text><text x="392.20" y="605.9">5</text><text x="411.04" y="605.9">-5</text><text x="432.82" y="605.9">-3</text><text x="457.53" y="605.9">7</text><text x="479.31" y="605.9">11</text><text x="501.09" y="605.9">15</text><text x="522.87" y="605.9">16</text><text x="544.64" y="605.9">16</text><text x="566.42" y="605.9">16</text><text x="588.20" y="605.9">16</text><text x="609.97" y="605.9">15</text><text x="631.75" y="605.9">15</text><text x="653.53" y="605.9">15</text><text x="675.30" y="605.9">15</text><text x="697.08" y="605.9">15</text><text x="718.86" y="605.9">15</text><text x="740.64" y="605.9">15</text><text x="762.41" y="605.9">15</text><text x="784.19" y="605.9">14</text><text x="805.97" y="605.9">14</text><text x="827.74" y="605.9">14</text><text x="0.22" y="625.9">17</text><text x="21.99" y="625.9">17</text><text x="43.77" y="625.9">16</text><text x="65.55" y="625.9">16</text><text x="87.33" y="625.9">16</text><text x="109.10" y="625.9">15</text><text x="130.88" y="625.9">14</text><text x="152.66" y="625.9">14</text><text x="174.43" y="625.9">14</text><text x="196.21" y="625.9">14</text><text x="217.99" y="625.9">15</text><text x="239.76" y="625.9">15</text><text x="261.54" y="625.9">13</text><text x="283.32" y="625.9">13</text><text x="305.10" y="625.9">9</text><text x="326.87" y="625.9">7</text><text x="348.65" y="625.9">10</text><text x="370.43" y="625.9">10</text><text x="392.20" y="625.9">12</text><text x="413.98" y="625.9">10</text><text x="435.76" y="625.9">11</text><text x="457.53" y="625.9">14</text><text x="479.31" y="625.9">16</text><text x="501.09" y="625.9">16</text><text x="522.87" y="625.9">16</text><text x="544.64" y="625.9">16</text><text x="566.42" y="625.9">16</text><text x="588.20" y="625.9">15</text><text x="609.97" y="625.9">15</text><text x="631.75" y="625.9">15</text><text x="653.53" y="625.9">15</text><text x="675.30" y="625.9">15</text><text x="697.08" y="625.9">15</text><text x="718.86" y="625.9">14</text><text x="740.64" y="625.9">13</text><text x="762.41" y="625.9">11</text><text x="784.19" y="625.9">10</text><text x="805.97" y="625.9">8</text><text x="827.74" y="625.9">8</text><text x="0.22" y="645.9">16</text><text x="21.99" y="645.9">16</text><text x="43.77" y="645.9">16</text><text x="65.55" y="645.9">16</text><text x="87.33" y="645.9">15</text><text x="109.10" y="645.9">15</text><text x="130.88" y="645.9">14</text><text x="152.66" y="645.9">13</text><text x="174.43" y="645.9">13</text><text x="196.21" y="645.9">14</text><text x="217.99" y="645.9">14</text><text x="239.76" y="645.9">14</text><text x="261.54" y="645.9">14</text><text x="283.32" y="645.9">14</text><text x="305.10" y="645.9">12</text><text x="326.87" y="645.9">13</text><text x="348.65" y="645.9">15</text><text x="370.43" y="645.9">17</text><text x="392.20" y="645.9">17</text><text x="413.98" y="645.9">16</text><text x="435.76" y="645.9">17</text><text x="457.53" y="645.9">17</text><text x="479.31" y="645.9">16</text><text x="501.09" y="645.9">16</text><text x="522.87" y="645.9">16</text><text x="544.64" y="645.9">15</text><text x="566.42" y="645.9">15</text><text x="588.20" y="645.9">15</text><text x="609.97" y="645.9">15</text><text x="631.75" y="645.9">14</text><text x="653.53" y="645.9">12</text><text x="675.30" y="645.9">11</text><text x="697.08" y="645.9">8</text><text x="718.86" y="645.9">9</text><text x="740.64" y="645.9">7</text><text x="762.41" y="645.9">7</text><text x="784.19" y="645.9">7</text><text x="805.97" y="645.9">5</text><text x="827.74" y="645.9">7</text><text x="0.22" y="665.9">16</text><text x="21.99" y="665.9">16</text><text x="43.77" y="665.9">16</text><text x="65.55" y="665.9">15</text><text x="87.33" y="665.9">15</text><text x="109.10" y="665.9">14</text><text x="130.88" y="665.9">13</text><text x="152.66" y="665.9">12</text><text x="174.43" y="665.9">13</text><text x="196.21" y="665.9">14</text><text x="217.99" y="665.9">14</text><text x="239.76" y="665.9">13</text><text x="261.54" y="665.9">14</text><text x="283.32" y="665.9">15</text><text x="305.10" y="665.9">15</text><text x="326.87" y="665.9">16</text><text x="348.65" y="665.9">17</text><text x="370.43" y="665.9">17</text><text x="392.20" y="665.9">17</text><text x="413.98" y="665.9">16</text><text x="435.76" y="665.9">16</text><text x="457.53" y="665.9">16</text><text x="479.31" y="665.9">15</text><text x="501.09" y="665.9">15</text><text x="522.87" y="665.9">15</text><text x="544.64" y="665.9">15</text><text x="566.42" y="665.9">15</text><text x="588.20" y="665.9">15</text><text x="609.97" y="665.9">12</text><text x="631.75" y="665.9">10</text><text x="653.53" y="665.9">9</text><text x="675.30" y="665.9">7</text><text x="697.08" y="665.9">7</text><text x="718.86" y="665.9">6</text><text x="740.64" y="665.9">6</text><text x="762.41" y="665.9">5</text><text x="784.19" y="665.9">6</text><text x="805.97" y="665.9">6</text><text x="827.74" y="665.9">6</text><text x="0.22" y="685.9">15</text><text x="21.99" y="685.9">15</text><text x="43.77" y="685.9">15</text><text x="65.55" y="685.9">14</text><text x="87.33" y="685.9">14</text><text x="109.10" y="685.9">13</text><text x="130.88" y="685.9">12</text><text x="152.66" y="685.9">12</text><text x="174.43" y="685.9">14</text><text x="196.21" y="685.9">14</text><text x="217.99" y="685.9">13</text><text x="239.76" y="685.9">14</text><text x="261.54" y="685.9">15</text><text x="283.32" y="685.9">16</text><text x="305.10" y="685.9">14</text><text x="326.87" y="685.9">16</text><text x="348.65" y="685.9">16</text><text x="370.43" y="685.9">16</text><text x="392.20" y="685.9">16</text><text x="413.98" y="685.9">16</text><text x="435.76" y="685.9">16</text><text x="457.53" y="685.9">16</text><text x="479.31" y="685.9">15</text><text x="501.09" y="685.9">15</text><text x="522.87" y="685.9">15</text><text x="544.64" y="685.9">14</text><text x="566.42" y="685.9">12</text><text x="588.20" y="685.9">12</text><text x="609.97" y="685.9">11</text><text x="631.75" y="685.9">9</text><text x="653.53" y="685.9">6</text><text x="675.30" y="685.9">5</text><text x="697.08" y="685.9">6</text><text x="718.86" y="685.9">6</text><text x="740.64" y="685.9">6</text><text x="762.41" y="685.9">6</text><text x="784.19" y="685.9">6</text><text x="805.97" y="685.9">7</text><text x="827.74" y="685.9">7</text><text x="0.22" y="705.9">15</text><text x="21.99" y="705.9">15</text><text x="43.77" y="705.9">14</text><text x="65.55" y="705.9">13</text><text x="87.33" y="705.9">14</text><text x="109.10" y="705.9">13</text><text x="130.88" y="705.9">12</text><text x="152.66" y="705.9">13</text><text x="174.43" y="705.9">14</text><text x="196.21" y="705.9">14</text><text x="217.99" y="705.9">13</text><text x="239.76" y="705.9">15</text><text x="261.54" y="705.9">16</text><text x="283.32" y="705.9">14</text><text x="305.10" y="705.9">11</text><text x="326.87" y="705.9">14</text><text x="348.65" y="705.9">15</text><text x="370.43" y="705.9">15</text><text x="392.20" y="705.9">15</text><text x="413.98" y="705.9">15</text><text x="435.76" y="705.9">15</text><text x="457.53" y="705.9">16</text><text x="479.31" y="705.9">16</text><text x="501.09" y="705.9">16</text><text x="522.87" y="705.9">14</text><text x="544.64" y="705.9">11</text><text x="566.42" y="705.9">10</text><text x="588.20" y="705.9">10</text><text x="609.97" y="705.9">7</text><text x="631.75" y="705.9">7</text><text x="653.53" y="705.9">4</text><text x="675.30" y="705.9">4</text><text x="697.08" y="705.9">6</text><text x="718.86" y="705.9">7</text><text x="740.64" y="705.9">6</text><text x="762.41" y="705.9">6</text><text x="784.19" y="705.9">6</text><text x="805.97" y="705.9">6</text><text x="827.74" y="705.9">7</text><text x="0.22" y="725.9">13</text><text x="21.99" y="725.9">14</text><text x="43.77" y="725.9">13</text><text x="65.55" y="725.9">13</text><text x="87.33" y="725.9">13</text><text x="109.10" y="725.9">12</text><text x="130.88" y="725.9">12</text><text x="152.66" y="725.9">13</text><text x="174.43" y="725.9">13</text><text x="196.21" y="725.9">13</text><text x="217.99" y="725.9">13</text><text x="239.76" y="725.9">15</text><text x="261.54" y="725.9">16</text><text x="283.32" y="725.9">14</text><text x="305.10" y="725.9">11</text><text x="326.87" y="725.9">12</text><text x="348.65" y="725.9">9</text><text x="370.43" y="725.9">10</text><text x="392.20" y="725.9">10</text><text x="413.98" y="725.9">13</text><text x="435.76" y="725.9">13</text><text x="457.53" y="725.9">13</text><text x="479.31" y="725.9">13</text><text x="501.09" y="725.9">12</text><text x="522.87" y="725.9">8</text><text x="544.64" y="725.9">6</text><text x="566.42" y="725.9">6</text><text x="588.20" y="725.9">6</text><text x="609.97" y="725.9">4</text><text x="631.75" y="725.9">4</text><text x="653.53" y="725.9">3</text><text x="675.30" y="725.9">3</text><text x="697.08" y="725.9">5</text><text x="718.86" y="725.9">6</text><text x="740.64" y="725.9">6</text><text x="762.41" y="725.9">6</text><text x="784.19" y="725.9">6</text><text x="805.97" y="725.9">5</text><text x="827.74" y="725.9">6</text><text x="0.22" y="745.9">13</text><text x="21.99" y="745.9">13</text><text x="43.77" y="745.9">13</text><text x="65.55" y="745.9">13</text><text x="87.33" y="745.9">12</text><text x="109.10" y="745.9">12</text><text x="130.88" y="745.9">13</text><text x="152.66" y="745.9">14</text><text x="174.43" y="745.9">13</text><text x="196.21" y="745.9">13</text><text x="217.99" y="745.9">14</text><text x="239.76" y="745.9">16</text><text x="261.54" y="745.9">16</text><text x="283.32" y="745.9">15</text><text x="305.10" y="745.9">12</text><text x="326.87" y="745.9">9</text><text x="348.65" y="745.9">3</text><text x="370.43" y="745.9">5</text><text x="392.20" y="745.9">5</text><text x="413.98" y="745.9">12</text><text x="435.76" y="745.9">12</text><text x="457.53" y="745.9">10</text><text x="479.31" y="745.9">10</text><text x="501.09" y="745.9">9</text><text x="522.87" y="745.9">2</text><text x="544.64" y="745.9">2</text><text x="566.42" y="745.9">2</text><text x="588.20" y="745.9">2</text><text x="609.97" y="745.9">1</text><text x="631.75" y="745.9">2</text><text x="653.53" y="745.9">3</text><text x="675.30" y="745.9">3</text><text x="697.08" y="745.9">4</text><text x="718.86" y="745.9">5</text><text x="740.64" y="745.9">5</text><text x="762.41" y="745.9">5</text><text x="784.19" y="745.9">5</text><text x="805.97" y="745.9">6</text><text x="827.74" y="745.9">7</text><text x="0.22" y="765.9">13</text><text x="21.99" y="765.9">12</text><text x="43.77" y="765.9">13</text><text x="65.55" y="765.9">12</text><text x="87.33" y="765.9">12</text><text x="109.10" y="765.9">13</text><text x="130.88" y="765.9">13</text><text x="152.66" y="765.9">14</text><text x="174.43" y="765.9">13</text><text x="196.21" y="765.9">14</text><text x="217.99" y="765.9">15</text><text x="239.76" y="765.9">17</text><text x="261.54" y="765.9">16</text><text x="283.32" y="765.9">15</text><text x="305.10" y="765.9">14</text><text x="326.87" y="765.9">11</text><text x="348.65" y="765.9">9</text><text x="370.43" y="765.9">7</text><text x="392.20" y="765.9">9</text><text x="413.98" y="765.9">10</text><text x="435.76" y="765.9">11</text><text x="457.53" y="765.9">10</text><text x="479.31" y="765.9">8</text><text x="501.09" y="765.9">5</text><text x="522.87" y="765.9">2</text><text x="544.64" y="765.9">0</text><text x="566.42" y="765.9">1</text><text x="588.20" y="765.9">2</text><text x="609.97" y="765.9">3</text><text x="631.75" y="765.9">3</text><text x="653.53" y="765.9">4</text><text x="675.30" y="765.9">4</text><text x="697.08" y="765.9">4</text><text x="718.86" y="765.9">4</text><text x="740.64" y="765.9">5</text><text x="762.41" y="765.9">5</text><text x="784.19" y="765.9">6</text><text x="805.97" y="765.9">6</text><text x="827.74" y="765.9">8</text></g>
<path fill="none" stroke="#000" stroke-width="1" stroke-linejoin="round" shape-rendering="crispEdges" d="M481.8 0.0L486.0 6.7L489.3 13.3L490.2 18.3L487.7 25.0L484.3 31.7L482.7 33.3L482.7 39.2L485.2 40.8L489.3 42.5L492.7 45.8L499.3 51.7L506.0 58.3L507.3 61.7L506.8 66.7L508.5 73.3L511.0 81.7L514.3 86.7M514.3 86.7L512.7 85.8L507.7 76.7L506.0 66.7L502.7 61.7L492.7 53.3L489.3 48.3L486.0 50.0L486.0 53.3L485.2 66.7L484.3 83.3L483.5 100.0L481.8 108.3L481.0 115.0L481.0 128.0M464.3 0.0L466.0 3.3L469.3 5.8L476.0 6.7L479.3 8.3L481.0 6.7L479.3 3.3L477.7 0.0M473.5 14.2L476.8 15.8L481.0 18.3L481.8 25.0L484.0 30.8L482.7 31.7L479.3 25.0L474.3 20.0L473.5 14.2M481.8 108.3L486.0 105.0L489.3 107.5L492.7 110.8L489.3 112.5L484.3 111.7L481.8 115.0M481.7 120.0L480.8 130.0L479.7 140.0L478.3 150.0L475.8 160.0L473.3 170.0L471.7 178.3L469.2 186.7L466.7 193.3L463.3 196.7L460.0 199.2L456.7 200.8L453.3 198.3L450.0 200.0L446.7 201.7L441.7 204.2L435.0 204.2L430.0 205.0L425.0 202.5L420.0 200.0L415.0 198.3L410.0 196.7L406.7 195.0L400.0 195.3M259.8 185.0L256.7 180.0L250.0 183.3L240.0 185.0L230.0 186.7L216.7 185.0L208.0 185.8L203.3 186.7L196.7 186.7L190.0 186.7L185.0 185.0L181.7 180.0L178.3 176.7L173.3 175.8L170.0 176.7L166.7 174.2L164.2 172.5L161.7 173.3L158.3 175.0L156.7 173.3L153.3 174.2L150.0 175.8L146.7 177.5L143.3 180.0L140.0 183.3L135.0 185.8L133.3 188.3L133.3 191.7L136.7 192.5L141.7 192.5L138.3 195.0L136.7 198.3L138.3 201.7L135.0 198.3L130.0 200.0L125.0 200.8L120.0 202.5L115.0 205.0L110.0 204.2L106.7 201.7L102.5 203.3L101.7 208.3L96.7 210.0L91.7 213.3L90.0 216.7L87.5 220.0L85.8 223.3L86.7 226.7L85.8 230.0L88.3 231.7L91.7 233.3L94.2 240.0L98.3 241.7L101.7 238.3L106.7 236.7L103.3 241.7L100.0 245.0L98.3 248.3L96.7 253.3L98.3 256.7L101.7 253.3L105.0 250.0L108.3 248.3L110.8 250.0L109.2 255.0L105.0 260.0L103.3 263.3L108.3 261.7L113.3 263.3L115.8 264.2L111.7 266.7L108.3 270.0L105.0 273.3L105.8 276.7L110.0 273.3L115.0 271.7L119.2 269.2L118.3 273.3L113.3 276.7L108.3 280.0L105.8 283.3L105.2 288.0M193.3 185.0L196.7 193.3L193.3 203.3L200.0 210.0L206.7 216.7L205.0 226.7L208.3 230.0L200.0 236.7L196.7 246.7L200.0 256.7L206.7 263.3L205.0 273.3L200.0 283.3L201.7 290.0L200.0 295.0M208.3 230.0L223.3 226.7L230.0 221.7L240.0 221.7L253.3 225.0M106.0 296.7L112.7 291.7L117.7 288.3L122.7 286.7L129.3 285.8L136.0 283.3L140.2 281.7L141.0 286.7L145.2 287.5L144.3 291.7L140.2 295.0L139.3 299.2L141.8 302.5L146.0 301.7L152.7 299.2L156.0 300.0L162.7 300.0L169.3 301.7L176.0 300.0L179.3 301.7L184.3 300.0L189.3 298.3L191.8 295.0L196.0 293.3L199.3 294.2L204.3 293.3L209.3 294.2L212.7 295.0L220.2 295.0L221.0 303.3L221.0 313.3L224.0 313.3M259.8 185.0L265.6 187.0L273.4 187.9L283.2 189.9L293.0 191.8L302.7 193.8L312.5 196.7L322.3 197.7L332.0 197.7L341.8 196.7L349.6 193.8L354.5 192.8L355.5 196.7L357.4 192.8L365.2 190.9L371.1 190.9L375.0 193.8L378.9 196.7L386.2 199.7L392.5 198.1L398.8 195.8L408.1 196.6L414.4 199.7L423.8 202.8L430.0 204.4L436.2 203.6L442.5 204.4L448.8 201.2L453.4 198.9L456.7 199.5M253.3 225.0L257.8 226.0L261.7 223.1L265.6 222.1L269.5 221.1L273.4 220.2L277.3 219.2L281.2 218.2L287.1 217.2L293.0 214.3L298.8 210.4L301.8 209.4L303.7 211.4L304.7 215.3L307.6 218.2L308.6 221.1L310.5 223.1L316.4 223.1L320.3 221.1L324.2 220.2L327.1 222.1L330.1 225.0L334.0 229.9L337.9 234.8L341.8 237.7L345.7 239.7L349.6 238.7L352.5 236.8L351.6 233.8L348.6 231.9L346.7 229.9L347.7 227.0L351.6 224.1L356.4 220.2L362.3 214.3L369.1 214.3L375.0 213.3L378.9 211.4L380.0 210.6L384.7 212.2L387.8 215.3L386.2 218.4L387.8 221.6L390.9 223.9L394.1 225.5L394.8 228.6L390.9 230.2L387.8 229.4L384.7 230.9L381.6 232.5L383.1 234.8L386.2 234.1L387.8 237.2L389.4 240.3L392.5 241.9L397.2 243.4L400.3 245.0L403.4 241.9L406.6 239.5L411.2 240.3L415.9 241.1L418.3 245.0L417.5 248.1L420.6 248.9L425.3 248.1M301.8 209.4L306.6 206.5L310.5 204.5L314.5 204.5L318.4 203.6L320.3 200.6L321.3 197.7M380.0 210.6L382.0 206.0L380.0 202.0L381.0 198.5M456.6 199.7L458.1 202.8L462.8 205.2L467.5 205.9L472.2 206.7L473.8 210.6L473.0 215.3L471.4 220.0L473.8 222.3L476.1 223.1L477.7 218.4L480.0 217.7L481.6 221.6L486.2 223.9L492.5 225.5L500.0 227.0L505.0 229.2L508.3 233.3L513.3 236.7L520.0 238.3L528.0 235.8L532.0 240.0L542.0 241.7M458.1 202.8L455.0 206.0L450.3 209.1L448.8 213.8L445.6 216.9L442.5 220.0L439.4 224.7L436.2 227.8L433.1 229.4L431.6 234.1L431.6 238.8L430.0 241.9L426.9 245.0L425.3 248.1L422.2 248.9M400.3 245.0L401.9 248.1L403.4 251.2L405.0 254.4L406.6 252.8L409.7 252.0L410.5 257.5L415.9 258.3L422.2 259.1L426.9 260.6L433.1 262.2L437.8 263.8L440.2 266.9L445.6 268.4L448.8 271.6L451.9 274.7L455.0 277.0L458.1 279.4M392.5 248.9L398.8 248.9L401.9 248.1M389.4 252.8L390.9 257.5L390.9 263.8L390.2 270.0L390.9 276.2L392.5 284.2L398.8 288.3L407.1 289.4L413.3 291.5L419.6 286.2L425.8 283.1L430.0 282.1L432.1 284.2M500.0 240.3L492.5 245.0L487.8 248.1L483.1 252.8L480.0 257.5L476.9 263.8L475.3 270.0L473.8 276.2L475.3 282.5L478.4 287.2L476.9 290.3L472.2 293.4L467.5 296.6L462.8 295.0L458.1 291.9L453.4 290.3L450.3 288.8L448.8 285.6L451.9 282.5L456.6 280.9L458.1 279.4M437.3 286.2L438.3 290.4L442.5 294.6L448.8 295.6L452.9 292.5L450.8 286.2L455.0 282.1L459.2 280.0M448.8 295.6L450.8 300.8L452.9 305.0L454.0 311.2L450.8 314.4L446.7 317.5L444.6 321.7L445.6 327.9L442.5 330.0L439.4 329.0L437.3 334.2L436.2 340.4L438.3 344.6L442.5 346.7L443.5 350.8L438.3 350.8L432.1 351.9L425.8 352.9L421.7 351.9L417.5 348.8L413.3 342.5L409.2 340.4L405.0 338.3L400.8 336.2L396.7 338.3L390.4 338.3L384.2 337.3L377.9 340.4L371.7 342.5L367.5 346.7L363.3 348.8L359.2 352.9L355.0 357.1L350.8 360.0L346.2 367.1M455.0 282.1L463.3 292.5L467.5 296.7L473.8 295.6L477.9 290.4L480.0 287.3L475.8 284.2M367.5 346.7L371.7 350.8L374.8 355.0L375.8 360.0M512.0 236.7L522.0 238.3L532.0 240.0L542.0 241.7L552.0 243.3L562.0 245.0L575.3 245.0L582.0 238.3L592.0 240.0L602.0 241.7L608.7 245.0L612.0 250.0L613.7 258.3L622.0 260.0L632.0 263.3L638.7 265.0L645.3 268.3L655.3 265.0L665.3 266.7L675.3 263.3L685.3 260.0L693.7 260.0M693.7 260.0L692.0 250.0L693.7 236.7L692.0 226.7L695.3 210.0L702.0 203.3L712.0 200.0L722.0 195.0L732.0 188.3L742.0 186.7L745.3 190.0L752.0 191.7L768.0 193.3M693.7 260.0L698.7 266.7L703.7 270.0L698.7 276.7L700.3 286.7L698.7 296.7L692.0 306.7L682.0 313.3L672.0 316.7L662.0 320.0L652.0 326.7L645.3 333.3L635.3 338.3L622.0 341.7L608.7 346.7L595.3 351.7L585.3 360.0L578.7 370.0L583.7 375.0L575.3 383.3L568.7 390.0L562.0 400.0L552.2 412.5L541.8 425.0L531.3 437.5L527.2 450.0L529.2 462.5L531.3 479.2L537.6 487.5L548.0 495.8L554.2 500.0L543.8 508.3L531.3 516.7L523.0 525.0L516.8 533.3L510.5 543.8L506.3 558.3L498.0 566.7L491.1 574.5L485.9 575.8L482.0 574.5L476.8 575.2L471.6 579.1L466.4 583.0L461.2 586.9L457.3 592.1L453.4 597.3L450.8 609.0L448.2 614.2L444.3 619.4L439.0 625.3L435.2 626.6L429.9 622.0L426.0 620.7L416.9 621.4L411.7 629.2L405.2 628.5L400.0 628.5L386.7 625.0L373.3 626.7L360.0 625.0L346.7 625.0L333.3 626.7L323.3 628.3L316.7 631.7L310.0 636.7L300.0 640.0L293.3 641.7L286.7 646.7L285.0 655.0L280.0 660.0L273.3 666.7L266.7 668.3L260.0 665.0L253.3 660.0L243.3 650.0L236.7 640.0L233.3 633.3L226.7 623.3L220.0 613.3L213.3 606.7L206.7 600.0L196.7 596.7L186.7 598.3L176.7 600.0L170.0 603.3L163.3 608.3L156.7 611.7L150.0 606.7L140.0 600.0L130.0 603.3L123.3 601.7L113.3 603.3L106.7 606.7L100.0 610.0L101.7 606.7L105.0 593.3L106.7 580.0L110.0 566.7L108.3 550.0L108.3 533.3L110.0 521.7L115.0 520.0L113.3 516.7L108.3 518.3L103.3 516.7L96.7 520.0L90.0 521.7L91.7 516.7L90.0 510.0L95.0 506.7L99.0 502.0L101.6 495.5L99.0 494.2L96.4 499.4L93.8 504.6L85.9 505.9L78.1 504.6L75.5 499.4L76.8 489.0L79.4 478.5L80.7 468.1L83.3 460.3L93.8 452.5L97.7 442.0L102.9 429.0L106.8 410.8L109.4 390.0L112.7 386.7L114.3 376.7L116.0 366.7L117.7 356.7L115.2 345.0L112.7 336.7L111.0 326.7L109.3 316.7L107.7 303.3L106.0 295.0L105.2 288.0M575.3 245.0L578.7 256.7L578.7 270.0L577.0 283.3L572.0 293.3L565.3 303.3L558.7 313.3L562.0 323.3L558.7 336.7L553.7 350.0L555.3 360.0L552.0 373.3L545.3 373.3L538.7 371.7L532.0 375.0L530.0 389.8M552.0 373.3L558.7 378.3L565.3 383.3L573.7 383.3M656.7 448.3L661.7 443.3L670.0 438.3L676.7 433.3L683.3 428.3L690.0 426.7L695.0 425.8L700.0 425.8L697.5 428.3L698.3 431.7L701.7 436.7L706.7 435.8L710.0 436.7L713.3 439.2L711.7 445.0L708.3 450.0L705.0 455.0L701.7 460.0L698.3 465.0L693.3 468.0L690.0 463.3L683.3 460.0L680.0 456.7L676.7 451.7L670.0 450.0L665.0 455.0L660.0 450.0L656.7 448.3M729.5 420.0L734.7 418.1L745.1 418.1L747.7 417.3L751.6 421.2L754.2 427.8L752.9 433.0L747.7 431.7L742.5 429.1L737.3 426.5L732.1 425.2L729.5 420.0M603.2 486.4L609.7 482.4L616.2 479.8L621.4 478.5L622.7 482.4L618.8 487.7L616.2 492.9L611.0 495.5L604.5 494.2L601.9 490.3L603.2 486.4M198.3 436.7L193.3 441.7L176.7 443.3L173.3 445.0L180.0 453.3L186.7 463.3L188.3 470.0L193.3 476.7L198.3 480.0L200.8 480.0M221.0 303.0L222.0 312.0L230.0 313.0L236.7 318.0L233.0 328.0L226.0 336.0L217.0 340.0M217.0 340.0L210.8 348.3L202.5 354.6L204.6 358.8L206.7 365.0L207.7 373.3L208.8 381.7L207.7 390.0L208.8 398.3L206.7 404.6L200.4 405.6L198.3 408.8L197.3 415.0L199.4 420.0L198.3 436.7M206.7 404.6L210.8 405.6L217.0 404.6L221.2 399.4L227.5 396.2L233.8 393.1L236.9 390.0L240.0 393.1L244.2 397.3L248.3 400.4L252.5 401.5L258.8 399.4L262.9 402.5L267.1 406.7L273.3 407.7L277.5 405.6L280.2 414.0M280.2 414.0L285.4 414.0L291.7 412.9L297.9 410.8L304.2 407.7L310.4 404.6L314.6 406.7L318.8 407.7L325.0 404.6L331.2 406.7L337.5 404.6L341.7 405.6L347.9 408.8L354.2 410.8L360.4 411.9L364.6 414.0L363.5 419.2L358.3 423.3L355.2 427.5M318.8 407.7L321.9 402.5L327.1 398.3L329.2 392.1L330.2 385.8L332.3 379.6L337.5 377.5L341.7 371.2L345.8 369.2L347.9 362.9L352.1 359.8L356.2 354.6L360.4 350.4L364.6 347.3L367.7 346.2L370.8 344.2L375.0 341.0L379.2 340.0M367.7 346.2L372.9 352.5L375.0 360.8L372.9 367.1L371.9 375.4L377.1 381.7L381.2 385.8L385.4 390.0L387.5 394.2L386.5 400.4L389.6 406.7L391.7 410.8L391.7 416.0L385.4 417.1L379.2 416.0L375.0 418.1L369.8 418.8L364.6 419.2M280.2 414.0L277.1 419.2L278.1 425.4L281.2 431.7L285.4 435.8L288.5 437.9L287.5 444.2L291.7 450.4L295.8 456.7L301.0 459.8L306.2 461.9L310.4 457.7L312.5 460.8L310.4 469.2L306.2 473.3L303.1 477.5L301.0 481.7L300.0 487.9L299.8 492.5L296.7 496.7L298.8 500.8L296.7 504.0M200.8 480.0L196.7 488.3L190.4 496.7L186.2 502.9L184.2 511.2L183.1 519.6L188.3 527.9L192.5 534.2L196.7 536.2L200.8 535.2M196.7 536.2L192.5 542.5L188.3 546.7L184.2 550.8L182.1 559.2L180.0 563.3L176.7 570.0L175.0 580.0L176.7 590.0L178.3 600.0M200.8 535.2L202.9 540.4L209.2 541.5L215.4 542.5L221.7 544.6L225.8 547.7L232.1 548.8L238.3 550.8L244.6 548.8L250.8 544.6L252.9 540.4L257.1 537.3L261.2 536.2L263.3 540.4L267.5 540.4L270.6 535.2L269.6 530.0L268.5 523.8L271.7 519.6L275.8 515.4L280.0 511.2L284.2 507.1L288.3 504.0L292.5 502.9L296.7 504.0M296.7 504.0L302.9 507.1L309.2 511.2L315.4 515.4L321.7 519.6L325.8 523.8L332.1 524.8L340.0 523.8L352.7 521.7L362.7 523.3L372.7 521.7L382.7 520.0L392.7 520.0L402.7 518.3L409.3 516.7L419.3 518.3L422.7 523.3M442.5 346.7L448.8 348.8L451.1 350.0L458.1 354.7L462.8 359.4L465.2 364.1L466.3 371.1L464.0 375.8L460.5 382.8L458.1 389.8L454.6 395.7L458.1 399.2L462.8 403.9L469.8 408.6L472.2 413.3L476.9 416.8L480.4 420.3L486.2 421.5L493.3 423.8L499.1 425.0L500.3 429.7L502.7 427.3L509.7 420.3L514.4 413.3L519.1 408.6L523.8 403.9L526.1 396.9L528.4 392.2L530.0 389.8M482.7 421.5L483.9 427.3L482.7 434.4L480.4 439.1L474.5 441.4L469.8 446.1L468.7 453.1L469.8 460.2L474.5 462.5L480.4 463.7L485.1 466.0L486.2 471.9L483.9 477.7L482.7 483.6L486.2 488.3L490.9 489.4L495.6 490.6L498.0 495.3L495.6 502.3L493.3 509.4L492.1 514.0L492.7 520.0L496.0 530.0L499.3 543.3L506.0 556.7L510.0 562.0M416.0 516.7L422.7 523.3L419.3 543.3L429.3 546.7L436.0 553.3L442.7 560.0L444.3 566.7L449.3 576.7L456.0 583.3L461.2 586.9M422.7 530.0L436.0 526.7L442.7 530.0L448.8 530.0L455.8 523.4L465.2 518.8L469.8 511.7L472.2 504.7L476.9 502.3L480.4 500.0L485.1 502.3L488.6 504.7M218.2 768.0L220.8 759.3L226.0 746.2L231.2 730.6L236.0 722.0L240.0 715.0L246.7 700.0L250.0 686.7L253.3 683.3L266.7 681.7L276.7 678.3L280.0 680.0L281.7 693.3L286.7 700.0L296.7 706.7L310.0 713.3L323.3 716.7L333.3 720.0L346.7 718.3L353.3 715.0L360.0 713.3L366.7 716.7L373.3 718.3L380.0 716.7L390.0 715.0L394.0 705.0L397.2 712.5L401.0 718.8L406.7 722.0M455.0 722.0L461.0 718.8L471.0 712.5L478.5 710.0L481.0 705.0L483.5 702.5L488.5 700.0L493.8 687.5L506.3 681.2L523.0 677.0L531.3 683.3L543.8 679.2L552.2 666.7L564.7 658.3L581.3 650.0L598.0 643.8L614.7 640.8L631.3 639.6L648.0 637.5L664.7 633.3L677.2 627.0L689.7 625.0L706.3 620.8L723.0 616.7L739.7 615.8L756.3 614.6L768.0 614.6M448.5 741.0L451.0 745.0L453.5 747.5L451.0 752.5L456.0 757.5L455.0 768.0"/>
<text class="h" x="11" y="28" font-size="19.2">samedi 1 novembre 2025</text>
<text class="h" x="11" y="52.5" font-size="23" letter-spacing="0.2">1:00 locale</text>
<text class="h" x="150" y="50" font-size="15.5">(+6h)</text>
<text class="h" x="11.5" y="85" font-size="15.7">Température du point de rosée (°C)</text>
<rect x="510" y="5" width="258" height="21" fill="#000"/>
<text x="520.3" y="20.6" font-family="Liberation Sans, Arial, sans-serif" font-weight="bold" font-size="10.5" letter-spacing="0.35" fill="#fff">Run GFS 18Z du vendredi 31 octobre 2025</text>
<rect x="40.5" y="720.5" width="20" height="20" fill="#000033" stroke="#000" stroke-width="1"/><rect x="60.5" y="720.5" width="20" height="20" fill="#003366" stroke="#000" stroke-width="1"/><rect x="80.5" y="720.5" width="20" height="20" fill="#003399" stroke="#000" stroke-width="1"/><rect x="100.5" y="720.5" width="20" height="20" fill="#0000cc" stroke="#000" stroke-width="1"/><rect x="120.5" y="720.5" width="20" height="20" fill="#0000ff" stroke="#000" stroke-width="1"/><rect x="140.5" y="720.5" width="20" height="20" fill="#0033ff" stroke="#000" stroke-width="1"/><rect x="160.5" y="720.5" width="20" height="20" fill="#0099ff" stroke="#000" stroke-width="1"/><rect x="180.5" y="720.5" width="20" height="20" fill="#33ccff" stroke="#000" stroke-width="1"/><rect x="200.5" y="720.5" width="20" height="20" fill="#66ffff" stroke="#000" stroke-width="1"/><rect x="220.5" y="720.5" width="20" height="20" fill="#66ff99" stroke="#000" stroke-width="1"/><rect x="240.5" y="720.5" width="20" height="20" fill="#66ff66" stroke="#000" stroke-width="1"/><rect x="260.5" y="720.5" width="20" height="20" fill="#66ff00" stroke="#000" stroke-width="1"/><rect x="280.5" y="720.5" width="20" height="20" fill="#bbff11" stroke="#000" stroke-width="1"/><rect x="300.5" y="720.5" width="20" height="20" fill="#ffff00" stroke="#000" stroke-width="1"/><rect x="320.5" y="720.5" width="20" height="20" fill="#ffff88" stroke="#000" stroke-width="1"/><rect x="340.5" y="720.5" width="20" height="20" fill="#ffe650" stroke="#000" stroke-width="1"/><rect x="360.5" y="720.5" width="20" height="20" fill="#ffcc00" stroke="#000" stroke-width="1"/><rect x="380.5" y="720.5" width="20" height="20" fill="#ff9900" stroke="#000" stroke-width="1"/><rect x="400.5" y="720.5" width="20" height="20" fill="#ff6600" stroke="#000" stroke-width="1"/><rect x="420.5" y="720.5" width="20" height="20" fill="#ff5544" stroke="#000" stroke-width="1"/><rect x="440.5" y="720.5" width="20" height="20" fill="#ff3300" stroke="#000" stroke-width="1"/><rect x="460.5" y="720.5" width="20" height="20" fill="#ff0000" stroke="#000" stroke-width="1"/><rect x="480.5" y="720.5" width="20" height="20" fill="#dd0000" stroke="#000" stroke-width="1"/><rect x="500.5" y="720.5" width="20" height="20" fill="#bb0000" stroke="#000" stroke-width="1"/><rect x="520.5" y="720.5" width="20" height="20" fill="#990000" stroke="#000" stroke-width="1"/><rect x="540.5" y="720.5" width="20" height="20" fill="#660000" stroke="#000" stroke-width="1"/><rect x="560.5" y="720.5" width="20" height="20" fill="#770044" stroke="#000" stroke-width="1"/><rect x="580.5" y="720.5" width="20" height="20" fill="#990077" stroke="#000" stroke-width="1"/><rect x="600.5" y="720.5" width="20" height="20" fill="#cc00cc" stroke="#000" stroke-width="1"/><rect x="620.5" y="720.5" width="20" height="20" fill="#ff00ff" stroke="#000" stroke-width="1"/><rect x="640.5" y="720.5" width="20" height="20" fill="#ff33ff" stroke="#000" stroke-width="1"/><rect x="660.5" y="720.5" width="20" height="20" fill="#ff77ff" stroke="#000" stroke-width="1"/><rect x="680.5" y="720.5" width="20" height="20" fill="#ff99ff" stroke="#000" stroke-width="1"/><rect x="700.5" y="720.5" width="20" height="20" fill="#ffffff" stroke="#000" stroke-width="1"/><g font-family="Liberation Sans, Arial, sans-serif" font-weight="bold" font-size="11" text-anchor="middle" fill="#bbf4ff" stroke="#000033" stroke-width="2.2" paint-order="stroke" stroke-linejoin="round"><text x="63.3" y="714">-14</text><text x="83.3" y="755">-12</text><text x="103.3" y="714">-10</text><text x="123.3" y="755">-8</text><text x="143.3" y="714">-6</text><text x="163.3" y="755">-4</text><text x="183.3" y="714">-2</text><text x="200.7" y="755">0</text><text x="220.7" y="714">2</text><text x="240.7" y="755">4</text><text x="260.7" y="714">6</text><text x="280.7" y="755">8</text><text x="300.7" y="714">10</text><text x="320.7" y="755">12</text><text x="340.7" y="714">14</text><text x="360.7" y="755">16</text><text x="380.7" y="714">18</text><text x="400.7" y="755">20</text><text x="420.7" y="714">22</text><text x="440.7" y="755">24</text><text x="460.7" y="714">26</text><text x="480.7" y="755">28</text><text x="500.7" y="714">30</text><text x="520.7" y="755">32</text><text x="540.7" y="714">34</text><text x="560.7" y="755">36</text><text x="580.7" y="714">38</text><text x="600.7" y="755">40</text><text x="620.7" y="714">42</text><text x="640.7" y="755">44</text><text x="660.7" y="714">46</text><text x="680.7" y="755">48</text><text x="700.7" y="714">50</text><text x="720.7" y="755">52</text></g>
<text x="350" y="764" font-family="Liberation Sans, Arial, sans-serif" font-weight="bold" font-size="11.3" fill="#fff" stroke="#000" stroke-width="2.2" paint-order="stroke" stroke-linejoin="round">Copyright 2025 Meteociel.fr</text>
</svg>
</body></html>
